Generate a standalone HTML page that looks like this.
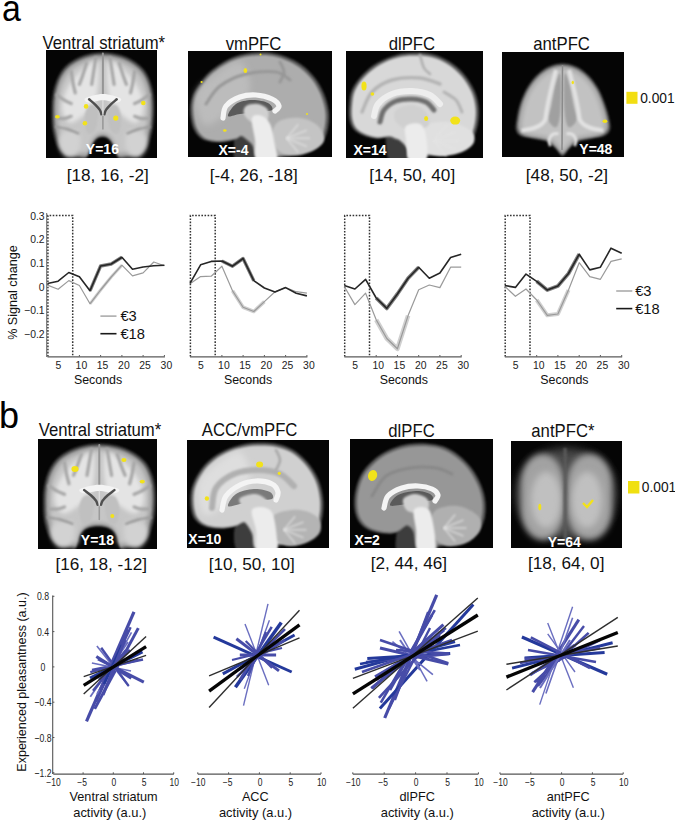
<!DOCTYPE html>
<html><head><meta charset="utf-8"><style>
html,body{margin:0;padding:0;background:#fff;}
svg{display:block;}
text{font-family:"Liberation Sans", sans-serif;}
</style></head><body>
<svg width="675" height="823" viewBox="0 0 675 823" font-family="'Liberation Sans', sans-serif">
<rect width="675" height="823" fill="#fff"/>
<text transform="translate(1.9,21.3) scale(0.93,1)" font-size="36.5" text-anchor="start" fill="#000">a</text>
<text x="-1.0" y="427.5" font-size="36" text-anchor="start" font-weight="normal" fill="#000" >b</text>
<text transform="translate(103.8,48.8) scale(0.955,1)" font-size="17.5" text-anchor="middle" fill="#111">Ventral striatum*</text>
<text transform="translate(253.5,50.0) scale(0.955,1)" font-size="17.5" text-anchor="middle" fill="#111">vmPFC</text>
<text transform="translate(411.9,49.6) scale(0.955,1)" font-size="17.5" text-anchor="middle" fill="#111">dlPFC</text>
<text transform="translate(561.6,49.6) scale(0.955,1)" font-size="17.5" text-anchor="middle" fill="#111">antPFC</text>
<text transform="translate(100.0,435.8) scale(0.955,1)" font-size="17.5" text-anchor="middle" fill="#111">Ventral striatum*</text>
<text transform="translate(249.6,436.1) scale(0.955,1)" font-size="17.5" text-anchor="middle" fill="#111">ACC/vmPFC</text>
<text transform="translate(411.5,436.6) scale(0.955,1)" font-size="17.5" text-anchor="middle" fill="#111">dlPFC</text>
<text transform="translate(562.9,436.6) scale(0.955,1)" font-size="17.5" text-anchor="middle" fill="#111">antPFC*</text>
<text x="107.8" y="180.7" font-size="17.2" text-anchor="middle" font-weight="normal" fill="#111" >[18, 16, -2]</text>
<text x="253.8" y="180.7" font-size="17.2" text-anchor="middle" font-weight="normal" fill="#111" >[-4, 26, -18]</text>
<text x="412.2" y="180.7" font-size="17.2" text-anchor="middle" font-weight="normal" fill="#111" >[14, 50, 40]</text>
<text x="566.9" y="181.2" font-size="17.2" text-anchor="middle" font-weight="normal" fill="#111" >[48, 50, -2]</text>
<text x="101.3" y="570.0" font-size="17.2" text-anchor="middle" font-weight="normal" fill="#111" >[16, 18, -12]</text>
<text x="251.8" y="570.0" font-size="17.2" text-anchor="middle" font-weight="normal" fill="#111" >[10, 50, 10]</text>
<text x="408.9" y="569.4" font-size="17.2" text-anchor="middle" font-weight="normal" fill="#111" >[2, 44, 46]</text>
<text x="566.2" y="569.4" font-size="17.2" text-anchor="middle" font-weight="normal" fill="#111" >[18, 64, 0]</text>
<rect x="626.4" y="91.8" width="11.1" height="12" fill="#f2de12"/>
<text transform="translate(640.2,102.8) scale(0.95,1)" font-size="14.5" text-anchor="start" fill="#111">0.001</text>
<rect x="628" y="481" width="11.4" height="12.5" fill="#f0e010"/>
<text transform="translate(641.8,492.4) scale(0.95,1)" font-size="14.5" text-anchor="start" fill="#111">0.001</text>
<defs><filter id="b05" filterUnits="userSpaceOnUse" x="0" y="0" width="675" height="823"><feGaussianBlur stdDeviation="0.6"/></filter><filter id="b1" filterUnits="userSpaceOnUse" x="0" y="0" width="675" height="823"><feGaussianBlur stdDeviation="1.2"/></filter><filter id="b2" filterUnits="userSpaceOnUse" x="0" y="0" width="675" height="823"><feGaussianBlur stdDeviation="2.0"/></filter><filter id="b3" filterUnits="userSpaceOnUse" x="0" y="0" width="675" height="823"><feGaussianBlur stdDeviation="3.2"/></filter><filter id="b4" filterUnits="userSpaceOnUse" x="0" y="0" width="675" height="823"><feGaussianBlur stdDeviation="5.0"/></filter></defs>
<clipPath id="c1"><rect x="46" y="50" width="111" height="108"/></clipPath>
<rect x="46" y="50" width="111" height="108" fill="#050505"/>
<g clip-path="url(#c1)">
<path d="M102.5,52.5 C105.7,52.5 108.8,52.7 112.0,53.2 C115.2,53.7 118.8,54.5 122.0,55.5 C125.2,56.5 128.2,57.9 131.0,59.5 C133.8,61.1 136.6,62.9 139.0,65.0 C141.4,67.1 143.7,69.3 145.5,72.0 C147.3,74.7 148.8,77.8 150.0,81.0 C151.2,84.2 152.1,87.5 152.8,91.0 C153.5,94.5 153.8,98.2 154.0,102.0 C154.2,105.8 154.2,110.0 154.0,114.0 C153.8,118.0 153.5,122.3 153.0,126.0 C152.5,129.7 151.8,132.8 151.0,136.0 C150.2,139.2 149.3,142.3 148.0,145.0 C146.7,147.7 145.0,150.1 143.0,152.0 C141.0,153.9 138.7,155.4 136.0,156.5 C133.3,157.6 129.8,158.5 127.0,158.8 C124.2,159.1 120.8,160.0 119.0,158.5 C117.2,157.0 117.2,152.8 116.0,150.0 C114.8,147.2 113.7,144.1 112.0,142.0 C110.3,139.9 108.2,138.2 106.0,137.5 C103.8,136.8 101.2,136.8 99.0,137.5 C96.8,138.2 94.7,139.9 93.0,142.0 C91.3,144.1 90.2,147.2 89.0,150.0 C87.8,152.8 87.8,157.0 86.0,158.5 C84.2,160.0 80.8,159.1 78.0,158.8 C75.2,158.5 71.7,157.6 69.0,156.5 C66.3,155.4 64.0,153.9 62.0,152.0 C60.0,150.1 58.3,147.7 57.0,145.0 C55.7,142.3 54.8,139.2 54.0,136.0 C53.2,132.8 52.7,129.7 52.3,126.0 C51.9,122.3 51.8,118.0 51.8,114.0 C51.8,110.0 51.7,105.8 52.0,102.0 C52.3,98.2 52.8,94.5 53.5,91.0 C54.2,87.5 55.2,84.2 56.5,81.0 C57.8,77.8 59.2,74.7 61.0,72.0 C62.8,69.3 64.7,67.1 67.0,65.0 C69.3,62.9 72.2,61.1 75.0,59.5 C77.8,57.9 81.0,56.5 84.0,55.5 C87.0,54.5 89.9,53.7 93.0,53.2 C96.1,52.7 99.3,52.5 102.5,52.5Z" fill="#505050" filter="url(#b1)" />
<path d="M102.5,55.2 C105.5,55.2 108.5,55.3 111.5,55.8 C114.6,56.3 118.0,57.0 121.0,58.0 C124.1,59.0 126.9,60.3 129.6,61.8 C132.3,63.3 134.9,65.1 137.2,67.0 C139.5,69.0 141.6,71.1 143.4,73.7 C145.1,76.2 146.5,79.2 147.6,82.2 C148.8,85.2 149.7,88.4 150.3,91.7 C150.9,95.1 151.3,98.5 151.4,102.2 C151.6,105.8 151.6,109.8 151.4,113.6 C151.3,117.4 151.0,121.5 150.5,125.0 C150.0,128.5 149.4,131.5 148.6,134.5 C147.8,137.5 147.0,140.5 145.7,143.0 C144.5,145.6 142.9,147.9 141.0,149.7 C139.1,151.5 136.9,152.9 134.3,154.0 C131.8,155.0 128.5,155.8 125.8,156.1 C123.1,156.5 119.9,157.3 118.2,155.9 C116.5,154.5 116.5,150.4 115.3,147.8 C114.2,145.2 113.1,142.2 111.5,140.2 C110.0,138.2 107.9,136.6 105.8,135.9 C103.8,135.2 101.3,135.2 99.2,135.9 C97.1,136.6 95.1,138.2 93.5,140.2 C91.9,142.2 90.8,145.2 89.7,147.8 C88.6,150.4 88.6,154.5 86.8,155.9 C85.1,157.3 81.9,156.5 79.2,156.1 C76.6,155.8 73.2,155.0 70.7,154.0 C68.2,152.9 65.9,151.5 64.0,149.7 C62.1,147.9 60.6,145.6 59.3,143.0 C58.0,140.5 57.2,137.5 56.4,134.5 C55.7,131.5 55.2,128.5 54.8,125.0 C54.5,121.5 54.4,117.4 54.4,113.6 C54.3,109.8 54.3,105.8 54.5,102.2 C54.8,98.5 55.3,95.1 56.0,91.7 C56.7,88.4 57.6,85.2 58.8,82.2 C60.0,79.2 61.4,76.2 63.1,73.7 C64.8,71.1 66.6,69.0 68.8,67.0 C71.0,65.1 73.7,63.3 76.4,61.8 C79.1,60.3 82.1,59.0 84.9,58.0 C87.8,57.0 90.6,56.3 93.5,55.8 C96.4,55.3 99.5,55.2 102.5,55.2Z" fill="#9c9c9c" filter="url(#b1)"/>
<path d="M102.5,58.3 C105.4,58.3 108.1,58.5 111.0,59.0 C113.9,59.4 117.1,60.1 119.9,61.0 C122.7,62.0 125.4,63.2 127.9,64.6 C130.4,66.0 132.9,67.6 135.0,69.5 C137.2,71.3 139.2,73.3 140.8,75.7 C142.4,78.1 143.7,80.9 144.8,83.7 C145.9,86.5 146.7,89.5 147.3,92.6 C147.9,95.7 148.2,99.0 148.4,102.4 C148.6,105.8 148.5,109.5 148.4,113.1 C148.2,116.6 147.9,120.5 147.5,123.8 C147.0,127.0 146.5,129.8 145.7,132.7 C145.0,135.5 144.2,138.3 143.0,140.7 C141.9,143.0 140.4,145.2 138.6,146.9 C136.8,148.6 134.7,149.9 132.4,150.9 C130.0,151.9 126.9,152.7 124.3,153.0 C121.8,153.3 118.9,154.0 117.2,152.7 C115.6,151.4 115.6,147.6 114.6,145.1 C113.5,142.7 112.5,139.9 111.0,138.0 C109.5,136.1 107.6,134.7 105.7,134.0 C103.7,133.3 101.4,133.3 99.4,134.0 C97.5,134.7 95.6,136.1 94.1,138.0 C92.6,139.9 91.6,142.7 90.5,145.1 C89.5,147.6 89.5,151.4 87.9,152.7 C86.2,154.0 83.3,153.3 80.7,153.0 C78.2,152.7 75.1,151.9 72.7,150.9 C70.4,149.9 68.3,148.6 66.5,146.9 C64.7,145.2 63.2,143.0 62.0,140.7 C60.9,138.3 60.1,135.5 59.4,132.7 C58.7,129.8 58.2,127.0 57.9,123.8 C57.5,120.5 57.5,116.6 57.4,113.1 C57.4,109.5 57.3,105.8 57.6,102.4 C57.9,99.0 58.3,95.7 58.9,92.6 C59.6,89.5 60.5,86.5 61.6,83.7 C62.7,80.9 64.1,78.1 65.6,75.7 C67.2,73.3 68.9,71.3 70.9,69.5 C73.0,67.6 75.5,66.0 78.1,64.6 C80.6,63.2 83.4,62.0 86.1,61.0 C88.7,60.1 91.3,59.4 94.1,59.0 C96.8,58.5 99.7,58.3 102.5,58.3Z" fill="#c6c6c6" filter="url(#b2)"/>
<path d="M97.8,63.1 C95.6,57.8 87.4,65.6 82.5,69.5 C77.5,73.4 71.6,80.1 68.2,86.5 C64.7,92.9 61.8,101.8 62.0,107.8 C62.2,113.8 65.8,121.2 69.2,122.7 C72.6,124.1 78.0,119.8 82.5,116.3 C86.9,112.7 93.2,110.3 95.7,101.4 C98.3,92.5 100.0,68.4 97.8,63.1Z" fill="#e4e4e4" filter="url(#b2)"/>
<path d="M86.5,63.1 C85.9,65.3 83.7,72.3 82.5,75.9 C81.3,79.4 79.9,83.0 79.4,84.4" fill="none" stroke="#a6a6a6" stroke-width="3.2" stroke-linecap="round" filter="url(#b1)"/>
<path d="M71.2,71.6 C71.6,73.8 72.6,80.8 73.3,84.4 C73.9,87.9 75.0,91.5 75.3,92.9" fill="none" stroke="#a6a6a6" stroke-width="3.2" stroke-linecap="round" filter="url(#b1)"/>
<path d="M56.9,95.0 C58.2,95.9 62.2,98.9 64.6,100.3 C67.0,101.8 70.1,103.0 71.2,103.5" fill="none" stroke="#a6a6a6" stroke-width="3.2" stroke-linecap="round" filter="url(#b1)"/>
<path d="M57.9,118.4 C59.1,118.4 62.9,118.8 65.1,118.4 C67.3,118.1 70.2,116.6 71.2,116.3" fill="none" stroke="#a6a6a6" stroke-width="3.2" stroke-linecap="round" filter="url(#b1)"/>
<path d="M95.7,57.8 C95.4,60.1 94.4,67.2 93.7,71.6 C93.0,76.1 92.0,82.3 91.7,84.4" fill="none" stroke="#a6a6a6" stroke-width="3.2" stroke-linecap="round" filter="url(#b1)"/>
<path d="M77.4,131.2 C74.3,129.6 65.1,130.8 62.0,133.3 C59.0,135.8 58.3,142.1 59.0,146.0 C59.6,149.9 63.2,155.3 66.1,156.7 C69.0,158.1 73.9,156.9 76.3,154.5 C78.7,152.2 80.2,146.8 80.4,142.9 C80.6,139.0 80.4,132.8 77.4,131.2Z" fill="#d2d2d2" filter="url(#b2)"/>
<path d="M55.9,126.9 C57.8,127.3 63.4,128.0 67.1,129.0 C70.9,130.1 76.5,132.6 78.4,133.3" fill="none" stroke="#9a9a9a" stroke-width="2.4" stroke-linecap="round" filter="url(#b1)"/>
<path d="M97.8,107.8 C96.6,103.9 90.8,103.9 88.6,105.7 C86.4,107.4 84.7,113.8 84.5,118.4 C84.3,123.0 85.7,131.5 87.6,133.3 C89.4,135.1 94.0,133.3 95.7,129.0 C97.4,124.8 99.0,111.7 97.8,107.8Z" fill="#c0c0c0" filter="url(#b1)"/>
<path d="M108.0,63.1 C110.2,57.8 118.4,65.6 123.3,69.5 C128.3,73.4 134.2,80.1 137.6,86.5 C141.1,92.9 144.0,101.8 143.8,107.8 C143.6,113.8 140.0,121.2 136.6,122.7 C133.2,124.1 127.8,119.8 123.3,116.3 C118.9,112.7 112.6,110.3 110.1,101.4 C107.5,92.5 105.8,68.4 108.0,63.1Z" fill="#e4e4e4" filter="url(#b2)"/>
<path d="M119.3,63.1 C119.9,65.3 122.1,72.3 123.3,75.9 C124.5,79.4 125.9,83.0 126.4,84.4" fill="none" stroke="#a6a6a6" stroke-width="3.2" stroke-linecap="round" filter="url(#b1)"/>
<path d="M134.6,71.6 C134.2,73.8 133.2,80.8 132.5,84.4 C131.9,87.9 130.8,91.5 130.5,92.9" fill="none" stroke="#a6a6a6" stroke-width="3.2" stroke-linecap="round" filter="url(#b1)"/>
<path d="M148.9,95.0 C147.6,95.9 143.6,98.9 141.2,100.3 C138.8,101.8 135.7,103.0 134.6,103.5" fill="none" stroke="#a6a6a6" stroke-width="3.2" stroke-linecap="round" filter="url(#b1)"/>
<path d="M147.9,118.4 C146.7,118.4 142.9,118.8 140.7,118.4 C138.5,118.1 135.6,116.6 134.6,116.3" fill="none" stroke="#a6a6a6" stroke-width="3.2" stroke-linecap="round" filter="url(#b1)"/>
<path d="M110.1,57.8 C110.4,60.1 111.4,67.2 112.1,71.6 C112.8,76.1 113.8,82.3 114.1,84.4" fill="none" stroke="#a6a6a6" stroke-width="3.2" stroke-linecap="round" filter="url(#b1)"/>
<path d="M128.5,131.2 C131.5,129.6 140.7,130.8 143.8,133.3 C146.8,135.8 147.5,142.1 146.8,146.0 C146.2,149.9 142.6,155.3 139.7,156.7 C136.8,158.1 131.9,156.9 129.5,154.5 C127.1,152.2 125.6,146.8 125.4,142.9 C125.2,139.0 125.4,132.8 128.5,131.2Z" fill="#d2d2d2" filter="url(#b2)"/>
<path d="M149.9,126.9 C148.0,127.3 142.4,128.0 138.7,129.0 C134.9,130.1 129.3,132.6 127.4,133.3" fill="none" stroke="#9a9a9a" stroke-width="2.4" stroke-linecap="round" filter="url(#b1)"/>
<path d="M108.0,107.8 C109.2,103.9 115.0,103.9 117.2,105.7 C119.4,107.4 121.1,113.8 121.3,118.4 C121.5,123.0 120.1,131.5 118.2,133.3 C116.4,135.1 111.8,133.3 110.1,129.0 C108.4,124.8 106.8,111.7 108.0,107.8Z" fill="#c0c0c0" filter="url(#b1)"/>
<path d="M102.9,53.6 C102.9,56.9 102.9,66.9 102.9,73.8 C102.9,80.7 102.9,91.5 102.9,95.0" fill="none" stroke="#959595" stroke-width="2.0" stroke-linecap="round" filter="url(#b05)"/>
<path d="M85.5,98.2 C87.9,96.8 97.1,94.0 102.9,94.0 C108.7,94.0 117.9,96.8 120.3,98.2 C122.7,99.6 120.1,102.1 117.2,102.5 C114.3,102.8 107.7,100.3 102.9,100.3 C98.1,100.3 91.5,102.8 88.6,102.5 C85.7,102.1 83.1,99.6 85.5,98.2Z" fill="#f4f4f4" filter="url(#b05)"/>
<path d="M89.1,99.3 C90.1,100.2 93.4,102.8 95.2,104.6 C97.0,106.4 98.8,108.3 99.8,109.9 C100.9,111.5 101.1,113.4 101.4,114.2" fill="none" stroke="#505050" stroke-width="2.5" stroke-linecap="round" filter="url(#b05)"/>
<path d="M116.7,99.3 C115.7,100.2 112.4,102.8 110.6,104.6 C108.8,106.4 107.0,108.3 106.0,109.9 C104.9,111.5 104.7,113.4 104.4,114.2" fill="none" stroke="#505050" stroke-width="2.5" stroke-linecap="round" filter="url(#b05)"/>
<path d="M102.9,100.3 C102.9,102.6 102.9,111.9 102.9,114.2" fill="none" stroke="#e0e0e0" stroke-width="1.2" stroke-linecap="round" filter="url(#b05)"/>
<path d="M102.9,116.3 C102.9,118.4 102.9,126.9 102.9,129.0" fill="none" stroke="#9a9a9a" stroke-width="1.6" stroke-linecap="round" filter="url(#b05)"/>
<ellipse cx="86.1" cy="106.4" rx="2.3" ry="2.3" fill="#f2e21a" transform="rotate(0 86.1 106.4)"/>
<ellipse cx="84.9" cy="123.3" rx="2.3" ry="2.3" fill="#f2e21a" transform="rotate(0 84.9 123.3)"/>
<ellipse cx="115.8" cy="118.1" rx="2.6" ry="2.6" fill="#f2e21a" transform="rotate(0 115.8 118.1)"/>
<ellipse cx="143.3" cy="103" rx="2.3" ry="2.3" fill="#f2e21a" transform="rotate(0 143.3 103)"/>
<ellipse cx="57.4" cy="116.7" rx="2.4" ry="1.8" fill="#f2e21a" transform="rotate(0 57.4 116.7)"/>
<text x="102.4" y="153.5" font-size="14" font-weight="bold" fill="#fff" text-anchor="middle">Y=16</text>
</g>
<clipPath id="c5"><rect x="38" y="439" width="119" height="110"/></clipPath>
<rect x="38" y="439" width="119" height="110" fill="#050505"/>
<g clip-path="url(#c5)">
<path d="M98.9,443.8 C102.3,443.8 105.7,444.0 109.3,444.5 C112.8,445.0 116.8,445.7 120.2,446.8 C123.7,447.8 127.0,449.2 130.1,450.7 C133.2,452.3 136.2,454.1 138.9,456.2 C141.5,458.3 144.0,460.5 146.0,463.1 C148.0,465.8 149.6,468.9 150.9,472.1 C152.3,475.2 153.3,478.5 154.0,482.0 C154.7,485.5 155.1,489.1 155.3,492.9 C155.5,496.7 155.5,500.8 155.3,504.8 C155.1,508.8 154.8,513.1 154.2,516.7 C153.7,520.3 152.9,523.5 152.0,526.6 C151.1,529.8 150.2,532.9 148.7,535.6 C147.3,538.2 145.4,540.6 143.2,542.5 C141.1,544.4 138.5,545.8 135.6,547.0 C132.7,548.1 128.1,548.8 125.7,549.2 C123.3,549.7 122.2,551.4 121.0,549.5 C119.8,547.6 119.8,541.2 118.5,538.0 C117.2,534.8 115.4,532.3 113.0,530.5 C110.6,528.7 107.5,527.6 104.0,527.0 C100.5,526.4 95.5,526.4 92.0,527.0 C88.5,527.6 85.4,528.7 83.0,530.5 C80.6,532.3 78.8,534.8 77.5,538.0 C76.2,541.2 75.9,547.6 75.0,549.5 C74.1,551.4 74.2,549.7 72.0,549.2 C69.9,548.8 65.1,548.1 62.1,547.0 C59.2,545.8 56.7,544.4 54.5,542.5 C52.3,540.6 50.5,538.2 49.0,535.6 C47.5,532.9 46.6,529.8 45.7,526.6 C44.8,523.5 44.2,520.3 43.8,516.7 C43.4,513.1 43.3,508.8 43.3,504.8 C43.2,500.8 43.2,496.7 43.5,492.9 C43.8,489.1 44.3,485.5 45.2,482.0 C46.0,478.5 47.1,475.2 48.4,472.1 C49.8,468.9 51.5,465.8 53.4,463.1 C55.3,460.5 57.4,458.3 60.0,456.2 C62.5,454.1 65.6,452.3 68.7,450.7 C71.8,449.2 75.3,447.8 78.6,446.8 C81.9,445.7 85.1,445.0 88.4,444.5 C91.8,444.0 95.4,443.8 98.9,443.8Z" fill="#505050" filter="url(#b1)" />
<path d="M98.9,446.4 C102.2,446.4 105.4,446.6 108.8,447.1 C112.2,447.6 115.9,448.3 119.2,449.3 C122.5,450.2 125.6,451.5 128.6,453.0 C131.5,454.5 134.4,456.2 136.9,458.2 C139.4,460.2 141.7,462.3 143.7,464.8 C145.6,467.3 147.1,470.3 148.3,473.3 C149.6,476.3 150.6,479.4 151.3,482.7 C152.0,486.0 152.3,489.5 152.5,493.1 C152.7,496.7 152.7,500.6 152.5,504.4 C152.3,508.2 152.0,512.2 151.5,515.7 C150.9,519.2 150.2,522.1 149.4,525.1 C148.5,528.1 147.6,531.1 146.3,533.6 C144.9,536.1 143.1,538.4 141.1,540.2 C139.0,542.0 136.5,543.4 133.8,544.4 C131.0,545.5 126.7,546.2 124.4,546.6 C122.1,547.0 121.1,548.6 119.9,546.8 C118.8,545.1 118.8,538.9 117.5,535.9 C116.3,532.9 114.6,530.5 112.3,528.8 C110.0,527.1 107.1,526.0 103.8,525.5 C100.4,524.9 95.7,524.9 92.4,525.5 C89.0,526.0 86.1,527.1 83.8,528.8 C81.5,530.5 79.9,532.9 78.6,535.9 C77.3,538.9 77.1,545.1 76.2,546.8 C75.3,548.6 75.4,547.0 73.4,546.6 C71.3,546.2 66.8,545.5 64.0,544.4 C61.2,543.4 58.8,542.0 56.7,540.2 C54.6,538.4 52.9,536.1 51.5,533.6 C50.1,531.1 49.2,528.1 48.4,525.1 C47.6,522.1 47.0,519.2 46.6,515.7 C46.2,512.2 46.1,508.2 46.1,504.4 C46.0,500.6 46.0,496.7 46.3,493.1 C46.6,489.5 47.1,486.0 47.9,482.7 C48.6,479.4 49.7,476.3 51.0,473.3 C52.3,470.3 53.9,467.3 55.7,464.8 C57.5,462.3 59.5,460.2 61.9,458.2 C64.4,456.2 67.3,454.5 70.3,453.0 C73.2,451.5 76.5,450.2 79.6,449.3 C82.7,448.3 85.8,447.6 89.0,447.1 C92.2,446.6 95.6,446.4 98.9,446.4Z" fill="#9c9c9c" filter="url(#b1)"/>
<path d="M98.9,449.6 C102.0,449.6 105.0,449.8 108.2,450.2 C111.3,450.6 114.8,451.3 117.9,452.2 C121.0,453.2 123.9,454.4 126.7,455.8 C129.5,457.2 132.2,458.8 134.5,460.6 C136.9,462.5 139.1,464.4 140.9,466.8 C142.6,469.2 144.1,472.0 145.2,474.7 C146.4,477.5 147.3,480.5 148.0,483.6 C148.6,486.7 148.9,489.9 149.1,493.3 C149.3,496.7 149.3,500.4 149.1,503.9 C149.0,507.4 148.7,511.2 148.2,514.5 C147.7,517.7 147.0,520.5 146.2,523.3 C145.4,526.1 144.6,528.9 143.3,531.3 C142.0,533.6 140.4,535.7 138.4,537.4 C136.5,539.1 134.2,540.4 131.6,541.4 C129.0,542.4 125.0,543.1 122.8,543.4 C120.6,543.8 119.7,545.3 118.6,543.7 C117.5,542.0 117.6,536.2 116.4,533.4 C115.2,530.6 113.6,528.4 111.5,526.7 C109.3,525.1 106.6,524.2 103.5,523.6 C100.4,523.1 95.9,523.1 92.8,523.6 C89.7,524.2 86.9,525.1 84.8,526.7 C82.6,528.4 81.1,530.6 79.9,533.4 C78.7,536.2 78.5,542.0 77.7,543.7 C76.9,545.3 76.9,543.8 75.0,543.4 C73.1,543.1 68.8,542.4 66.2,541.4 C63.6,540.4 61.4,539.1 59.4,537.4 C57.5,535.7 55.8,533.6 54.5,531.3 C53.2,528.9 52.4,526.1 51.6,523.3 C50.8,520.5 50.3,517.7 49.9,514.5 C49.6,511.2 49.5,507.4 49.5,503.9 C49.4,500.4 49.4,496.7 49.7,493.3 C49.9,489.9 50.4,486.7 51.1,483.6 C51.8,480.5 52.8,477.5 54.0,474.7 C55.3,472.0 56.7,469.2 58.4,466.8 C60.1,464.4 62.0,462.5 64.3,460.6 C66.6,458.8 69.3,457.2 72.1,455.8 C74.8,454.4 77.9,453.2 80.9,452.2 C83.8,451.3 86.6,450.6 89.6,450.2 C92.7,449.8 95.8,449.6 98.9,449.6Z" fill="#c6c6c6" filter="url(#b2)"/>
<path d="M93.7,454.3 C91.3,449.1 82.3,456.8 76.9,460.6 C71.5,464.5 64.9,471.2 61.2,477.5 C57.4,483.8 54.3,492.5 54.5,498.5 C54.6,504.5 58.6,511.8 62.3,513.2 C66.0,514.6 72.0,510.4 76.9,506.9 C81.7,503.4 88.7,501.0 91.5,492.2 C94.3,483.4 96.1,459.6 93.7,454.3Z" fill="#e4e4e4" filter="url(#b2)"/>
<path d="M81.4,454.3 C80.6,456.4 78.2,463.4 76.9,466.9 C75.6,470.5 74.1,474.0 73.5,475.4" fill="none" stroke="#a6a6a6" stroke-width="3.2" stroke-linecap="round" filter="url(#b1)"/>
<path d="M64.5,462.7 C64.9,464.8 66.0,471.9 66.8,475.4 C67.5,478.9 68.7,482.4 69.0,483.8" fill="none" stroke="#a6a6a6" stroke-width="3.2" stroke-linecap="round" filter="url(#b1)"/>
<path d="M48.9,485.9 C50.3,486.8 54.6,489.7 57.3,491.1 C59.9,492.5 63.3,493.8 64.5,494.3" fill="none" stroke="#a6a6a6" stroke-width="3.2" stroke-linecap="round" filter="url(#b1)"/>
<path d="M50.0,509.0 C51.3,509.0 55.4,509.4 57.8,509.0 C60.3,508.7 63.4,507.3 64.5,506.9" fill="none" stroke="#a6a6a6" stroke-width="3.2" stroke-linecap="round" filter="url(#b1)"/>
<path d="M91.5,449.1 C91.1,451.3 90.0,458.4 89.2,462.7 C88.5,467.1 87.3,473.3 87.0,475.4" fill="none" stroke="#a6a6a6" stroke-width="3.2" stroke-linecap="round" filter="url(#b1)"/>
<path d="M71.3,521.6 C67.9,520.1 57.8,521.3 54.5,523.8 C51.1,526.2 50.3,532.5 51.1,536.4 C51.8,540.2 55.8,545.5 58.9,546.9 C62.1,548.3 67.5,547.1 70.2,544.8 C72.8,542.5 74.5,537.1 74.6,533.2 C74.8,529.4 74.6,523.2 71.3,521.6Z" fill="#d2d2d2" filter="url(#b2)"/>
<path d="M47.7,517.4 C49.8,517.8 56.0,518.5 60.1,519.5 C64.2,520.6 70.3,523.1 72.4,523.8" fill="none" stroke="#9a9a9a" stroke-width="2.4" stroke-linecap="round" filter="url(#b1)"/>
<path d="M93.7,498.5 C92.4,494.6 86.0,494.6 83.6,496.4 C81.2,498.2 79.3,504.5 79.1,509.0 C78.9,513.6 80.4,522.0 82.5,523.8 C84.5,525.5 89.6,523.8 91.5,519.5 C93.3,515.3 95.0,502.4 93.7,498.5Z" fill="#c0c0c0" filter="url(#b1)"/>
<path d="M104.9,454.3 C107.3,449.1 116.3,456.8 121.7,460.6 C127.1,464.5 133.7,471.2 137.4,477.5 C141.2,483.8 144.3,492.5 144.1,498.5 C144.0,504.5 140.0,511.8 136.3,513.2 C132.6,514.6 126.6,510.4 121.7,506.9 C116.9,503.4 109.9,501.0 107.1,492.2 C104.3,483.4 102.5,459.6 104.9,454.3Z" fill="#e4e4e4" filter="url(#b2)"/>
<path d="M117.2,454.3 C118.0,456.4 120.4,463.4 121.7,466.9 C123.0,470.5 124.5,474.0 125.1,475.4" fill="none" stroke="#a6a6a6" stroke-width="3.2" stroke-linecap="round" filter="url(#b1)"/>
<path d="M134.1,462.7 C133.7,464.8 132.6,471.9 131.8,475.4 C131.1,478.9 129.9,482.4 129.6,483.8" fill="none" stroke="#a6a6a6" stroke-width="3.2" stroke-linecap="round" filter="url(#b1)"/>
<path d="M149.7,485.9 C148.3,486.8 144.0,489.7 141.3,491.1 C138.7,492.5 135.3,493.8 134.1,494.3" fill="none" stroke="#a6a6a6" stroke-width="3.2" stroke-linecap="round" filter="url(#b1)"/>
<path d="M148.6,509.0 C147.3,509.0 143.2,509.4 140.8,509.0 C138.3,508.7 135.2,507.3 134.1,506.9" fill="none" stroke="#a6a6a6" stroke-width="3.2" stroke-linecap="round" filter="url(#b1)"/>
<path d="M107.1,449.1 C107.5,451.3 108.6,458.4 109.4,462.7 C110.1,467.1 111.3,473.3 111.6,475.4" fill="none" stroke="#a6a6a6" stroke-width="3.2" stroke-linecap="round" filter="url(#b1)"/>
<path d="M127.3,521.6 C130.7,520.1 140.8,521.3 144.1,523.8 C147.5,526.2 148.3,532.5 147.5,536.4 C146.8,540.2 142.8,545.5 139.7,546.9 C136.5,548.3 131.1,547.1 128.4,544.8 C125.8,542.5 124.1,537.1 124.0,533.2 C123.8,529.4 124.0,523.2 127.3,521.6Z" fill="#d2d2d2" filter="url(#b2)"/>
<path d="M150.9,517.4 C148.8,517.8 142.6,518.5 138.5,519.5 C134.4,520.6 128.3,523.1 126.2,523.8" fill="none" stroke="#9a9a9a" stroke-width="2.4" stroke-linecap="round" filter="url(#b1)"/>
<path d="M104.9,498.5 C106.2,494.6 112.6,494.6 115.0,496.4 C117.4,498.2 119.3,504.5 119.5,509.0 C119.7,513.6 118.2,522.0 116.1,523.8 C114.1,525.5 109.0,523.8 107.1,519.5 C105.3,515.3 103.6,502.4 104.9,498.5Z" fill="#c0c0c0" filter="url(#b1)"/>
<path d="M99.3,444.9 C99.3,448.2 99.3,458.0 99.3,464.8 C99.3,471.7 99.3,482.4 99.3,485.9" fill="none" stroke="#959595" stroke-width="2.0" stroke-linecap="round" filter="url(#b05)"/>
<path d="M80.2,489.0 C82.9,487.6 92.9,484.8 99.3,484.8 C105.7,484.8 115.7,487.6 118.4,489.0 C121.0,490.4 118.2,492.9 115.0,493.2 C111.8,493.6 104.5,491.1 99.3,491.1 C94.1,491.1 86.8,493.6 83.6,493.2 C80.4,492.9 77.6,490.4 80.2,489.0Z" fill="#f4f4f4" filter="url(#b05)"/>
<path d="M84.2,490.1 C85.3,491.0 88.9,493.6 90.9,495.3 C92.9,497.1 94.8,499.0 95.9,500.6 C97.1,502.2 97.3,504.1 97.6,504.8" fill="none" stroke="#505050" stroke-width="2.5" stroke-linecap="round" filter="url(#b05)"/>
<path d="M114.4,490.1 C113.3,491.0 109.7,493.6 107.7,495.3 C105.7,497.1 103.8,499.0 102.7,500.6 C101.5,502.2 101.3,504.1 101.0,504.8" fill="none" stroke="#505050" stroke-width="2.5" stroke-linecap="round" filter="url(#b05)"/>
<path d="M99.3,491.1 C99.3,493.4 99.3,502.5 99.3,504.8" fill="none" stroke="#e0e0e0" stroke-width="1.2" stroke-linecap="round" filter="url(#b05)"/>
<path d="M99.3,506.9 C99.3,509.0 99.3,517.4 99.3,519.5" fill="none" stroke="#9a9a9a" stroke-width="1.6" stroke-linecap="round" filter="url(#b05)"/>
<ellipse cx="75" cy="469" rx="3.6" ry="3.0" fill="#f2e21a" transform="rotate(0 75 469)"/>
<ellipse cx="123.9" cy="460" rx="2.6" ry="2.0" fill="#f2e21a" transform="rotate(0 123.9 460)"/>
<ellipse cx="142.3" cy="481.6" rx="2.6" ry="1.9" fill="#f2e21a" transform="rotate(0 142.3 481.6)"/>
<ellipse cx="112.3" cy="516" rx="2.0" ry="2.0" fill="#f2e21a" transform="rotate(0 112.3 516)"/>
<text x="97.4" y="545.4" font-size="14" font-weight="bold" fill="#fff" text-anchor="middle">Y=18</text>
</g>
<clipPath id="c2"><rect x="188" y="51" width="144" height="106"/></clipPath>
<rect x="188" y="51" width="144" height="106" fill="#050505"/>
<g clip-path="url(#c2)">
<path d="M236.0,134.0 C239.0,132.2 248.3,131.3 252.0,134.0 C255.7,136.7 257.3,145.7 258.0,150.0 C258.7,154.3 259.7,158.3 256.0,160.0 C252.3,161.7 239.7,162.5 236.0,160.0 C232.3,157.5 234.0,149.3 234.0,145.0 C234.0,140.7 233.0,135.8 236.0,134.0Z" fill="#3c3c3c" filter="url(#b1)"/>
<path d="M198.2,86.8 C200.8,82.9 204.3,77.3 208.2,73.4 C212.1,69.5 216.8,66.3 221.6,63.4 C226.4,60.5 231.9,57.9 237.1,56.1 C242.3,54.3 247.1,53.3 252.7,52.8 C258.2,52.2 264.8,52.1 270.4,52.8 C275.9,53.5 280.8,54.8 286.0,56.8 C291.2,58.8 296.8,61.5 301.6,65.0 C306.4,68.5 311.2,73.2 314.9,77.9 C318.6,82.6 321.5,87.9 323.8,93.4 C326.1,99.0 328.0,105.6 328.7,111.2 C329.4,116.8 329.0,122.0 328.2,126.8 C327.4,131.6 326.0,136.4 323.8,140.1 C321.6,143.8 318.6,146.6 314.9,149.0 C311.2,151.4 306.4,153.3 301.6,154.6 C296.8,155.9 289.7,156.2 286.0,156.8 C282.3,157.4 281.1,157.5 279.3,158.0 C277.5,158.5 278.7,159.7 275.0,160.0 C271.3,160.3 260.7,162.2 257.0,160.0 C253.3,157.8 254.5,150.1 252.7,146.8 C250.9,143.5 248.1,141.8 246.0,140.1 C243.9,138.4 242.2,136.9 240.4,136.8 C238.6,136.7 238.4,138.8 234.9,139.7 C231.4,140.6 224.1,142.2 219.3,142.3 C214.5,142.5 209.3,141.5 206.0,140.6 C202.7,139.7 201.3,138.7 199.3,136.8 C197.3,134.9 195.2,132.2 193.8,129.0 C192.4,125.8 191.5,121.6 190.9,117.9 C190.3,114.2 190.1,110.3 190.4,106.8 C190.7,103.3 191.4,100.1 192.7,96.8 C194.0,93.5 195.6,90.7 198.2,86.8Z" fill="#5a5a5a" filter="url(#b1)" />
<path d="M200.8,88.0 C203.3,84.3 206.6,79.0 210.3,75.2 C214.1,71.5 218.5,68.4 223.1,65.7 C227.7,62.9 233.0,60.4 237.9,58.7 C242.9,57.0 247.5,56.1 252.8,55.6 C258.1,55.0 264.4,54.9 269.7,55.6 C275.0,56.2 279.7,57.4 284.6,59.4 C289.6,61.3 294.9,63.9 299.5,67.2 C304.1,70.6 308.7,75.0 312.2,79.5 C315.8,84.1 318.5,89.0 320.7,94.3 C322.9,99.6 324.7,106.0 325.4,111.3 C326.1,116.7 325.7,121.6 324.9,126.2 C324.2,130.8 322.9,135.4 320.7,138.9 C318.6,142.5 315.8,145.1 312.2,147.4 C308.7,149.7 304.1,151.5 299.5,152.8 C294.9,154.0 288.2,154.3 284.6,154.9 C281.1,155.4 280.0,155.5 278.2,156.0 C276.5,156.5 277.7,157.6 274.1,157.9 C270.6,158.3 260.5,160.0 256.9,157.9 C253.4,155.8 254.6,148.5 252.8,145.3 C251.1,142.2 248.4,140.5 246.4,138.9 C244.5,137.3 242.9,135.9 241.1,135.8 C239.3,135.7 239.2,137.7 235.8,138.6 C232.5,139.4 225.5,140.9 220.9,141.0 C216.3,141.2 211.4,140.3 208.2,139.4 C205.1,138.5 203.8,137.6 201.8,135.8 C199.9,133.9 197.9,131.3 196.6,128.3 C195.3,125.3 194.4,121.3 193.8,117.7 C193.3,114.2 193.1,110.5 193.3,107.1 C193.6,103.8 194.3,100.8 195.5,97.6 C196.8,94.4 198.3,91.8 200.8,88.0Z" fill="#adadad" filter="url(#b1)"/>
<path d="M196.0,95.0 C197.7,86.7 207.7,80.5 215.0,75.0 C222.3,69.5 234.2,59.5 240.0,62.0 C245.8,64.5 251.7,82.0 250.0,90.0 C248.3,98.0 237.5,104.2 230.0,110.0 C222.5,115.8 210.7,127.5 205.0,125.0 C199.3,122.5 194.3,103.3 196.0,95.0Z" fill="#bcbcbc" filter="url(#b3)"/>
<path d="M206.0,104.0 C208.3,101.0 213.3,91.0 220.0,86.0 C226.7,81.0 236.7,76.3 246.0,74.0 C255.3,71.7 268.7,71.0 276.0,72.0 C283.3,73.0 287.7,78.7 290.0,80.0" fill="none" stroke="#979797" stroke-width="3.0" stroke-linecap="round" filter="url(#b1)"/>
<path d="M280.0,62.0 C280.7,63.7 284.0,68.7 284.0,72.0 C284.0,75.3 280.7,80.3 280.0,82.0" fill="none" stroke="#979797" stroke-width="3.0" stroke-linecap="round" filter="url(#b1)"/>
<path d="M278.0,122.0 C282.7,118.7 293.3,117.3 300.0,118.0 C306.7,118.7 314.0,122.3 318.0,126.0 C322.0,129.7 324.7,136.0 324.0,140.0 C323.3,144.0 318.7,147.5 314.0,150.0 C309.3,152.5 301.7,154.7 296.0,155.0 C290.3,155.3 284.0,154.8 280.0,152.0 C276.0,149.2 272.3,143.0 272.0,138.0 C271.7,133.0 273.3,125.3 278.0,122.0Z" fill="#c4c4c4" filter="url(#b1)"/>
<line x1="286.6" y1="138.3" x2="298.3" y2="124.2" stroke="#e4e4e4" stroke-width="1.6" stroke-opacity="0.7" filter="url(#b1)"/>
<line x1="286.6" y1="138.3" x2="306.8" y2="130.2" stroke="#e4e4e4" stroke-width="1.6" stroke-opacity="0.7" filter="url(#b1)"/>
<line x1="286.6" y1="138.3" x2="310.0" y2="138.3" stroke="#e4e4e4" stroke-width="1.6" stroke-opacity="0.7" filter="url(#b1)"/>
<line x1="286.6" y1="138.3" x2="306.8" y2="146.5" stroke="#e4e4e4" stroke-width="1.6" stroke-opacity="0.7" filter="url(#b1)"/>
<line x1="286.6" y1="138.3" x2="298.3" y2="152.5" stroke="#e4e4e4" stroke-width="1.6" stroke-opacity="0.7" filter="url(#b1)"/>
<path d="M228.0,116.0 C227.3,114.3 232.0,106.7 236.0,104.0 C240.0,101.3 246.7,100.2 252.0,100.0 C257.3,99.8 264.7,101.3 268.0,103.0 C271.3,104.7 273.7,108.5 272.0,110.0 C270.3,111.5 263.3,111.3 258.0,112.0 C252.7,112.7 245.0,113.3 240.0,114.0 C235.0,114.7 228.7,117.7 228.0,116.0Z" fill="#5a5a5a" filter="url(#b05)"/>
<path d="M223.0,118.0 C223.5,116.0 223.2,109.5 226.0,106.0 C228.8,102.5 235.0,98.8 240.0,97.0 C245.0,95.2 250.7,94.7 256.0,95.0 C261.3,95.3 268.2,97.2 272.0,99.0 C275.8,100.8 278.5,104.0 279.0,106.0 C279.5,108.0 275.7,110.2 275.0,111.0" fill="none" stroke="#f4f4f4" stroke-width="5.2" stroke-linecap="round" filter="url(#b05)"/>
<path d="M246.0,106.0 C248.3,104.3 254.3,103.3 258.0,104.0 C261.7,104.7 266.7,107.0 268.0,110.0 C269.3,113.0 268.7,120.0 266.0,122.0 C263.3,124.0 255.7,123.3 252.0,122.0 C248.3,120.7 245.0,116.7 244.0,114.0 C243.0,111.3 243.7,107.7 246.0,106.0Z" fill="#d0d0d0" filter="url(#b1)"/>
<path d="M252.0,118.0 C253.2,114.0 259.0,115.0 262.0,116.0 C265.0,117.0 268.0,120.0 270.0,124.0 C272.0,128.0 273.0,134.0 274.0,140.0 C275.0,146.0 278.8,156.7 276.0,160.0 C273.2,163.3 260.5,163.3 257.0,160.0 C253.5,156.7 255.8,147.0 255.0,140.0 C254.2,133.0 250.8,122.0 252.0,118.0Z" fill="#ececec" filter="url(#b1)"/>
<ellipse cx="245.4" cy="70.5" rx="1.8" ry="2.6" fill="#f2e21a" transform="rotate(0 245.4 70.5)"/>
<ellipse cx="201.6" cy="82" rx="1.1" ry="1.1" fill="#f2e21a" transform="rotate(0 201.6 82)"/>
<ellipse cx="224.8" cy="130.5" rx="1.8" ry="1.3" fill="#f2e21a" transform="rotate(0 224.8 130.5)"/>
<ellipse cx="260.5" cy="54.5" rx="1" ry="1" fill="#f2e21a" transform="rotate(0 260.5 54.5)"/>
<ellipse cx="307" cy="114" rx="1" ry="1" fill="#f2e21a" transform="rotate(0 307 114)"/>
<text x="218.5" y="154.5" font-size="14" font-weight="bold" fill="#fff" text-anchor="start">X=-4</text>
</g>
<clipPath id="c3"><rect x="346" y="51" width="137" height="107"/></clipPath>
<rect x="346" y="51" width="137" height="107" fill="#050505"/>
<g clip-path="url(#c3)">
<path d="M388.0,134.0 C391.0,132.0 400.3,131.3 404.0,134.0 C407.7,136.7 409.3,145.7 410.0,150.0 C410.7,154.3 411.3,158.3 408.0,160.0 C404.7,161.7 393.7,162.3 390.0,160.0 C386.3,157.7 386.3,150.3 386.0,146.0 C385.7,141.7 385.0,136.0 388.0,134.0Z" fill="#3c3c3c" filter="url(#b1)"/>
<path d="M352.4,89.0 C354.7,84.1 358.8,78.7 363.0,74.3 C367.2,69.9 372.1,65.9 377.7,62.7 C383.3,59.5 390.6,56.5 396.6,54.9 C402.6,53.2 407.5,52.9 413.5,52.8 C419.5,52.7 426.4,52.8 432.4,54.3 C438.4,55.8 444.0,58.3 449.3,61.6 C454.6,64.9 459.8,69.4 464.0,74.3 C468.2,79.2 472.1,85.5 474.5,91.1 C476.9,96.7 478.2,102.4 478.7,108.0 C479.2,113.6 478.8,119.5 477.7,124.8 C476.6,130.1 475.0,135.3 472.4,139.5 C469.8,143.7 466.5,147.4 461.9,150.0 C457.3,152.6 450.6,154.2 445.0,155.3 C439.4,156.4 432.4,155.6 428.2,156.4 C424.0,157.2 423.4,159.4 420.0,160.0 C416.6,160.6 410.1,161.7 408.0,160.0 C405.9,158.3 408.6,153.1 407.2,150.0 C405.8,146.9 401.9,143.3 399.8,141.6 C397.7,139.8 396.4,140.2 394.5,139.5 C392.6,138.8 391.3,137.6 388.2,137.4 C385.1,137.2 379.8,138.8 375.6,138.5 C371.4,138.2 366.7,136.9 363.0,135.3 C359.3,133.7 355.8,131.8 353.5,129.0 C351.2,126.2 350.0,122.7 349.3,118.5 C348.6,114.3 348.8,108.6 349.3,103.7 C349.8,98.8 350.1,93.9 352.4,89.0Z" fill="#5a5a5a" filter="url(#b1)" />
<path d="M355.1,90.1 C357.2,85.4 361.1,80.3 365.2,76.1 C369.2,71.9 373.9,68.1 379.2,65.0 C384.6,61.9 391.6,59.1 397.3,57.6 C403.0,56.0 407.7,55.6 413.4,55.6 C419.1,55.5 425.8,55.6 431.5,57.0 C437.2,58.4 442.6,60.8 447.6,64.0 C452.6,67.1 457.6,71.4 461.6,76.1 C465.6,80.8 469.3,86.8 471.7,92.1 C474.0,97.5 475.2,102.9 475.7,108.3 C476.2,113.6 475.7,119.3 474.7,124.3 C473.7,129.3 472.2,134.3 469.7,138.3 C467.1,142.4 464.0,145.9 459.6,148.4 C455.3,150.9 448.9,152.4 443.5,153.4 C438.1,154.5 431.4,153.7 427.4,154.5 C423.5,155.2 422.8,157.4 419.6,157.9 C416.4,158.5 410.2,159.5 408.2,157.9 C406.1,156.3 408.7,151.3 407.4,148.4 C406.1,145.4 402.3,142.0 400.3,140.4 C398.3,138.7 397.1,139.0 395.3,138.3 C393.4,137.7 392.3,136.5 389.2,136.3 C386.2,136.2 381.2,137.7 377.2,137.4 C373.2,137.1 368.7,135.9 365.2,134.3 C361.7,132.8 358.3,131.0 356.1,128.3 C353.9,125.6 352.8,122.3 352.1,118.3 C351.4,114.3 351.6,108.9 352.1,104.2 C352.6,99.5 352.9,94.8 355.1,90.1Z" fill="#d8d8d8" filter="url(#b1)"/>
<path d="M362.0,112.0 C363.7,108.7 367.0,97.3 372.0,92.0 C377.0,86.7 384.0,82.3 392.0,80.0 C400.0,77.7 412.0,77.3 420.0,78.0 C428.0,78.7 436.7,83.0 440.0,84.0" fill="none" stroke="#b4b4b4" stroke-width="3.4" stroke-linecap="round" filter="url(#b1)"/>
<path d="M420.0,55.0 C420.7,57.2 422.3,64.8 424.0,68.0 C425.7,71.2 429.0,73.0 430.0,74.0" fill="none" stroke="#b0b0b0" stroke-width="2.6" stroke-linecap="round" filter="url(#b1)"/>
<path d="M444.0,92.0 C446.0,93.3 453.0,96.7 456.0,100.0 C459.0,103.3 461.0,110.0 462.0,112.0" fill="none" stroke="#b4b4b4" stroke-width="3.0" stroke-linecap="round" filter="url(#b1)"/>
<path d="M422.0,126.0 C427.0,123.3 440.0,121.3 448.0,122.0 C456.0,122.7 465.7,126.7 470.0,130.0 C474.3,133.3 475.3,138.3 474.0,142.0 C472.7,145.7 467.7,149.7 462.0,152.0 C456.3,154.3 446.3,156.3 440.0,156.0 C433.7,155.7 427.7,153.0 424.0,150.0 C420.3,147.0 418.3,142.0 418.0,138.0 C417.7,134.0 417.0,128.7 422.0,126.0Z" fill="#e0e0e0" filter="url(#b1)"/>
<line x1="433.7" y1="140.7" x2="446.3" y2="125.4" stroke="#e4e4e4" stroke-width="1.6" stroke-opacity="0.7" filter="url(#b1)"/>
<line x1="433.7" y1="140.7" x2="455.5" y2="131.9" stroke="#e4e4e4" stroke-width="1.6" stroke-opacity="0.7" filter="url(#b1)"/>
<line x1="433.7" y1="140.7" x2="458.9" y2="140.7" stroke="#e4e4e4" stroke-width="1.6" stroke-opacity="0.7" filter="url(#b1)"/>
<line x1="433.7" y1="140.7" x2="455.5" y2="149.5" stroke="#e4e4e4" stroke-width="1.6" stroke-opacity="0.7" filter="url(#b1)"/>
<line x1="433.7" y1="140.7" x2="446.3" y2="156.0" stroke="#e4e4e4" stroke-width="1.6" stroke-opacity="0.7" filter="url(#b1)"/>
<path d="M374.0,116.0 C374.7,114.0 375.0,107.7 378.0,104.0 C381.0,100.3 386.3,96.2 392.0,94.0 C397.7,91.8 405.7,90.8 412.0,91.0 C418.3,91.2 425.3,92.8 430.0,95.0 C434.7,97.2 438.3,102.5 440.0,104.0" fill="none" stroke="#eeeeee" stroke-width="6" stroke-linecap="round" filter="url(#b05)"/>
<path d="M380.0,122.0 C380.7,120.0 381.3,113.5 384.0,110.0 C386.7,106.5 391.3,102.8 396.0,101.0 C400.7,99.2 407.0,98.8 412.0,99.0 C417.0,99.2 422.3,100.2 426.0,102.0 C429.7,103.8 432.7,108.7 434.0,110.0" fill="none" stroke="#6e6e6e" stroke-width="5.0" stroke-linecap="round" filter="url(#b1)"/>
<path d="M396.0,110.0 C398.7,107.2 407.0,104.7 412.0,105.0 C417.0,105.3 423.3,108.5 426.0,112.0 C428.7,115.5 430.7,123.0 428.0,126.0 C425.3,129.0 415.3,130.7 410.0,130.0 C404.7,129.3 398.3,125.3 396.0,122.0 C393.7,118.7 393.3,112.8 396.0,110.0Z" fill="#d0d0d0" filter="url(#b1)"/>
<path d="M406.0,126.0 C408.3,123.3 416.7,122.3 420.0,124.0 C423.3,125.7 425.0,130.0 426.0,136.0 C427.0,142.0 428.7,156.0 426.0,160.0 C423.3,164.0 413.3,163.3 410.0,160.0 C406.7,156.7 406.7,145.7 406.0,140.0 C405.3,134.3 403.7,128.7 406.0,126.0Z" fill="#ececec" filter="url(#b1)"/>
<ellipse cx="364" cy="86" rx="2.6" ry="4.5" fill="#f2e21a" transform="rotate(0 364 86)"/>
<ellipse cx="372.4" cy="94" rx="1.8" ry="1.8" fill="#f2e21a" transform="rotate(0 372.4 94)"/>
<ellipse cx="426.1" cy="118.5" rx="2.0" ry="2.5" fill="#f2e21a" transform="rotate(0 426.1 118.5)"/>
<ellipse cx="455.2" cy="120.6" rx="5" ry="4" fill="#f2e21a" transform="rotate(0 455.2 120.6)"/>
<text x="353.5" y="155.4" font-size="14" font-weight="bold" fill="#fff" text-anchor="start">X=14</text>
</g>
<clipPath id="c6"><rect x="187" y="440" width="142" height="108"/></clipPath>
<rect x="187" y="440" width="142" height="108" fill="#050505"/>
<g clip-path="url(#c6)">
<path d="M238.0,522.0 C241.3,519.5 250.3,517.0 254.0,520.0 C257.7,523.0 259.3,534.8 260.0,540.0 C260.7,545.2 261.7,549.2 258.0,551.0 C254.3,552.8 242.0,553.7 238.0,551.0 C234.0,548.3 234.0,539.8 234.0,535.0 C234.0,530.2 234.7,524.5 238.0,522.0Z" fill="#3c3c3c" filter="url(#b1)"/>
<path d="M194.5,481.7 C196.9,476.7 200.9,469.4 205.2,464.6 C209.5,459.8 214.4,456.1 220.1,452.9 C225.8,449.7 233.2,447.1 239.3,445.4 C245.4,443.7 250.3,443.1 256.4,442.8 C262.4,442.5 269.6,442.6 275.6,443.7 C281.7,444.8 287.4,446.6 292.7,449.7 C298.0,452.8 303.3,457.5 307.6,462.5 C311.9,467.5 315.7,473.5 318.3,479.5 C320.9,485.5 322.3,492.6 323.0,498.7 C323.7,504.8 323.3,510.8 322.5,515.8 C321.7,520.8 320.4,524.7 318.3,528.6 C316.2,532.5 313.3,536.6 309.7,539.3 C306.1,542.0 301.9,543.5 296.9,544.6 C291.9,545.7 283.4,544.6 279.9,545.7 C276.4,546.8 280.0,550.1 276.0,551.0 C272.0,551.9 260.0,553.7 256.0,551.0 C252.0,548.3 253.8,539.5 252.1,535.0 C250.4,530.5 247.5,526.2 245.7,524.3 C243.9,522.3 243.3,522.9 241.5,523.3 C239.7,523.7 238.7,525.6 235.1,526.5 C231.5,527.4 225.1,528.6 220.1,528.6 C215.1,528.6 209.3,527.9 205.2,526.5 C201.1,525.1 197.9,523.0 195.6,520.1 C193.3,517.2 192.1,513.7 191.3,509.4 C190.5,505.1 190.2,499.1 190.7,494.5 C191.2,489.9 192.1,486.7 194.5,481.7Z" fill="#5a5a5a" filter="url(#b1)" />
<path d="M197.3,482.7 C199.6,477.9 203.4,470.9 207.5,466.3 C211.6,461.8 216.3,458.2 221.7,455.2 C227.2,452.1 234.3,449.6 240.1,448.0 C245.9,446.4 250.6,445.8 256.4,445.5 C262.2,445.3 269.0,445.3 274.7,446.4 C280.5,447.5 286.0,449.1 291.1,452.1 C296.2,455.1 301.2,459.6 305.3,464.3 C309.4,469.1 313.1,474.8 315.5,480.6 C318.0,486.3 319.3,493.1 320.0,498.9 C320.7,504.7 320.3,510.5 319.5,515.2 C318.8,520.0 317.6,523.7 315.5,527.5 C313.5,531.2 310.7,535.1 307.3,537.7 C303.9,540.2 299.8,541.7 295.1,542.7 C290.3,543.8 282.2,542.8 278.8,543.8 C275.5,544.8 278.9,548.0 275.1,548.9 C271.3,549.7 259.8,551.4 256.0,548.9 C252.2,546.3 253.9,537.8 252.3,533.6 C250.7,529.3 247.9,525.2 246.2,523.4 C244.5,521.5 243.9,522.0 242.2,522.4 C240.5,522.7 239.5,524.6 236.1,525.5 C232.7,526.3 226.5,527.5 221.7,527.5 C217.0,527.5 211.4,526.8 207.5,525.5 C203.6,524.1 200.6,522.1 198.3,519.3 C196.1,516.6 195.0,513.2 194.2,509.1 C193.5,505.1 193.2,499.3 193.7,494.9 C194.2,490.5 195.0,487.4 197.3,482.7Z" fill="#d0d0d0" filter="url(#b1)"/>
<path d="M198.0,485.0 C199.7,476.7 208.0,470.5 215.0,465.0 C222.0,459.5 234.2,449.5 240.0,452.0 C245.8,454.5 251.7,472.0 250.0,480.0 C248.3,488.0 237.5,494.2 230.0,500.0 C222.5,505.8 210.3,517.5 205.0,515.0 C199.7,512.5 196.3,493.3 198.0,485.0Z" fill="#dedede" filter="url(#b3)"/>
<path d="M212.0,508.0 C212.7,504.7 212.3,493.7 216.0,488.0 C219.7,482.3 227.0,477.0 234.0,474.0 C241.0,471.0 250.3,470.0 258.0,470.0 C265.7,470.0 274.0,471.3 280.0,474.0 C286.0,476.7 291.7,484.0 294.0,486.0" fill="none" stroke="#b0b0b0" stroke-width="6.0" stroke-linecap="round" filter="url(#b1)"/>
<path d="M276.0,450.0 C276.7,451.7 280.0,456.7 280.0,460.0 C280.0,463.3 276.7,468.3 276.0,470.0" fill="none" stroke="#a8a8a8" stroke-width="2.6" stroke-linecap="round" filter="url(#b1)"/>
<path d="M276.0,514.0 C281.0,511.3 293.0,509.3 300.0,510.0 C307.0,510.7 314.7,514.3 318.0,518.0 C321.3,521.7 321.7,528.0 320.0,532.0 C318.3,536.0 313.0,539.7 308.0,542.0 C303.0,544.3 295.3,546.3 290.0,546.0 C284.7,545.7 279.3,543.3 276.0,540.0 C272.7,536.7 270.0,530.3 270.0,526.0 C270.0,521.7 271.0,516.7 276.0,514.0Z" fill="#b4b4b4" filter="url(#b1)"/>
<line x1="284.0" y1="529.8" x2="295.2" y2="516.2" stroke="#e4e4e4" stroke-width="1.6" stroke-opacity="0.7" filter="url(#b1)"/>
<line x1="284.0" y1="529.8" x2="303.5" y2="521.9" stroke="#e4e4e4" stroke-width="1.6" stroke-opacity="0.7" filter="url(#b1)"/>
<line x1="284.0" y1="529.8" x2="306.5" y2="529.8" stroke="#e4e4e4" stroke-width="1.6" stroke-opacity="0.7" filter="url(#b1)"/>
<line x1="284.0" y1="529.8" x2="303.5" y2="537.7" stroke="#e4e4e4" stroke-width="1.6" stroke-opacity="0.7" filter="url(#b1)"/>
<line x1="284.0" y1="529.8" x2="295.2" y2="543.4" stroke="#e4e4e4" stroke-width="1.6" stroke-opacity="0.7" filter="url(#b1)"/>
<path d="M228.0,506.0 C227.3,504.3 231.7,496.8 236.0,494.0 C240.3,491.2 248.3,489.3 254.0,489.0 C259.7,488.7 267.0,490.3 270.0,492.0 C273.0,493.7 274.3,497.7 272.0,499.0 C269.7,500.3 261.3,499.2 256.0,500.0 C250.7,500.8 244.7,503.0 240.0,504.0 C235.3,505.0 228.7,507.7 228.0,506.0Z" fill="#7a7a7a" filter="url(#b05)"/>
<path d="M222.0,510.0 C222.7,507.7 223.0,500.2 226.0,496.0 C229.0,491.8 235.0,487.5 240.0,485.0 C245.0,482.5 250.7,481.2 256.0,481.0 C261.3,480.8 268.3,482.2 272.0,484.0 C275.7,485.8 277.3,489.3 278.0,492.0 C278.7,494.7 276.3,498.7 276.0,500.0" fill="none" stroke="#f4f4f4" stroke-width="5.2" stroke-linecap="round" filter="url(#b05)"/>
<path d="M240.0,498.0 C242.3,496.0 251.3,493.3 256.0,494.0 C260.7,494.7 266.3,498.7 268.0,502.0 C269.7,505.3 269.0,512.0 266.0,514.0 C263.0,516.0 254.0,515.3 250.0,514.0 C246.0,512.7 243.7,508.7 242.0,506.0 C240.3,503.3 237.7,500.0 240.0,498.0Z" fill="#d0d0d0" filter="url(#b1)"/>
<path d="M252.0,510.0 C253.7,506.3 262.3,506.7 266.0,508.0 C269.7,509.3 272.3,510.8 274.0,518.0 C275.7,525.2 278.7,545.5 276.0,551.0 C273.3,556.5 261.3,554.5 258.0,551.0 C254.7,547.5 257.0,536.8 256.0,530.0 C255.0,523.2 250.3,513.7 252.0,510.0Z" fill="#ececec" filter="url(#b1)"/>
<ellipse cx="259.6" cy="464.5" rx="3.5" ry="3" fill="#f2e21a" transform="rotate(0 259.6 464.5)"/>
<ellipse cx="279.3" cy="473.3" rx="1.6" ry="1.6" fill="#f2e21a" transform="rotate(0 279.3 473.3)"/>
<ellipse cx="206.9" cy="498.5" rx="2.2" ry="2.2" fill="#f2e21a" transform="rotate(0 206.9 498.5)"/>
<text x="188.3" y="543.5" font-size="14" font-weight="bold" fill="#fff" text-anchor="start">X=10</text>
</g>
<clipPath id="c7"><rect x="350" y="439" width="143" height="109"/></clipPath>
<rect x="350" y="439" width="143" height="109" fill="#050505"/>
<g clip-path="url(#c7)">
<path d="M400.0,526.0 C403.0,523.7 410.7,521.7 414.0,524.0 C417.3,526.3 419.3,535.5 420.0,540.0 C420.7,544.5 421.7,549.2 418.0,551.0 C414.3,552.8 401.7,553.2 398.0,551.0 C394.3,548.8 395.7,542.2 396.0,538.0 C396.3,533.8 397.0,528.3 400.0,526.0Z" fill="#3c3c3c" filter="url(#b1)"/>
<path d="M364.0,470.2 C367.2,465.9 372.2,460.9 376.9,457.3 C381.6,453.7 386.6,450.9 392.0,448.7 C397.4,446.5 403.5,444.9 409.2,444.0 C414.9,443.1 420.6,443.0 426.3,443.4 C432.0,443.8 438.1,444.6 443.5,446.6 C448.9,448.6 454.0,451.6 458.6,455.2 C463.2,458.8 467.6,463.1 471.4,468.1 C475.1,473.1 478.8,479.6 481.1,485.3 C483.4,491.0 484.9,496.7 485.4,502.4 C485.9,508.1 485.6,514.6 484.3,519.6 C483.1,524.6 480.8,528.9 477.9,532.5 C475.0,536.1 471.4,539.0 467.1,541.1 C462.8,543.2 456.8,544.5 452.1,545.4 C447.5,546.3 442.1,545.6 439.2,546.5 C436.3,547.4 438.6,550.2 435.0,551.0 C431.4,551.8 421.3,554.1 417.7,551.0 C414.1,547.9 415.2,536.6 413.4,532.5 C411.6,528.4 408.8,526.8 407.0,526.1 C405.2,525.4 404.5,527.1 402.7,528.2 C400.9,529.3 399.2,531.6 396.3,532.5 C393.4,533.4 389.8,534.0 385.5,533.6 C381.2,533.2 374.6,532.0 370.5,530.4 C366.4,528.8 363.3,526.8 360.8,523.9 C358.3,521.0 356.5,517.5 355.4,513.2 C354.3,508.9 354.0,503.2 354.4,498.2 C354.8,493.2 356.0,487.8 357.6,483.1 C359.2,478.4 360.8,474.5 364.0,470.2Z" fill="#5a5a5a" filter="url(#b1)" />
<path d="M366.4,471.7 C369.5,467.6 374.3,462.8 378.7,459.4 C383.2,456.0 388.0,453.3 393.2,451.2 C398.3,449.1 404.1,447.5 409.6,446.7 C415.1,445.9 420.5,445.7 425.9,446.1 C431.4,446.5 437.2,447.3 442.4,449.2 C447.5,451.1 452.3,454.0 456.8,457.4 C461.2,460.8 465.4,464.9 469.0,469.7 C472.6,474.5 476.0,480.7 478.3,486.1 C480.5,491.6 481.9,497.0 482.4,502.5 C482.9,507.9 482.5,514.1 481.3,518.9 C480.1,523.7 477.9,527.8 475.2,531.2 C472.5,534.6 469.0,537.4 464.9,539.4 C460.8,541.5 455.0,542.7 450.6,543.5 C446.1,544.4 441.0,543.7 438.2,544.6 C435.5,545.5 437.7,548.2 434.2,548.9 C430.8,549.6 421.2,551.8 417.7,548.9 C414.3,545.9 415.3,535.2 413.6,531.2 C411.9,527.3 409.2,525.8 407.5,525.1 C405.8,524.4 405.1,526.1 403.4,527.1 C401.7,528.1 400.0,530.4 397.3,531.2 C394.5,532.1 391.1,532.6 387.0,532.3 C382.9,531.9 376.6,530.8 372.6,529.2 C368.7,527.7 365.8,525.7 363.4,523.0 C361.0,520.3 359.2,516.9 358.2,512.8 C357.2,508.7 356.9,503.3 357.3,498.5 C357.6,493.7 358.8,488.5 360.3,484.0 C361.8,479.6 363.4,475.8 366.4,471.7Z" fill="#979797" filter="url(#b1)"/>
<path d="M372.0,496.0 C374.3,492.7 379.7,480.7 386.0,476.0 C392.3,471.3 401.7,469.3 410.0,468.0 C418.3,466.7 429.0,467.0 436.0,468.0 C443.0,469.0 449.3,473.0 452.0,474.0" fill="none" stroke="#888" stroke-width="3.0" stroke-linecap="round" filter="url(#b1)"/>
<path d="M436.0,510.0 C440.7,506.7 451.0,505.0 458.0,506.0 C465.0,507.0 474.3,512.0 478.0,516.0 C481.7,520.0 481.7,525.7 480.0,530.0 C478.3,534.3 473.0,539.3 468.0,542.0 C463.0,544.7 455.3,546.3 450.0,546.0 C444.7,545.7 439.3,543.3 436.0,540.0 C432.7,536.7 430.0,531.0 430.0,526.0 C430.0,521.0 431.3,513.3 436.0,510.0Z" fill="#b0b0b0" filter="url(#b1)"/>
<line x1="444.0" y1="528.0" x2="455.2" y2="514.4" stroke="#e4e4e4" stroke-width="1.6" stroke-opacity="0.7" filter="url(#b1)"/>
<line x1="444.0" y1="528.0" x2="463.5" y2="520.1" stroke="#e4e4e4" stroke-width="1.6" stroke-opacity="0.7" filter="url(#b1)"/>
<line x1="444.0" y1="528.0" x2="466.5" y2="528.0" stroke="#e4e4e4" stroke-width="1.6" stroke-opacity="0.7" filter="url(#b1)"/>
<line x1="444.0" y1="528.0" x2="463.5" y2="535.9" stroke="#e4e4e4" stroke-width="1.6" stroke-opacity="0.7" filter="url(#b1)"/>
<line x1="444.0" y1="528.0" x2="455.2" y2="541.6" stroke="#e4e4e4" stroke-width="1.6" stroke-opacity="0.7" filter="url(#b1)"/>
<path d="M390.0,505.0 C389.7,503.3 393.7,497.3 398.0,495.0 C402.3,492.7 410.7,491.2 416.0,491.0 C421.3,490.8 427.3,492.5 430.0,494.0 C432.7,495.5 434.3,498.7 432.0,500.0 C429.7,501.3 421.3,501.2 416.0,502.0 C410.7,502.8 404.3,504.5 400.0,505.0 C395.7,505.5 390.3,506.7 390.0,505.0Z" fill="#5a5a5a" filter="url(#b05)"/>
<path d="M384.0,508.0 C384.7,506.0 385.0,499.3 388.0,496.0 C391.0,492.7 397.0,489.7 402.0,488.0 C407.0,486.3 413.0,485.8 418.0,486.0 C423.0,486.2 428.7,487.5 432.0,489.0 C435.3,490.5 437.5,493.0 438.0,495.0 C438.5,497.0 435.5,500.0 435.0,501.0" fill="none" stroke="#f4f4f4" stroke-width="5.2" stroke-linecap="round" filter="url(#b05)"/>
<path d="M404.0,498.0 C406.0,496.0 412.0,493.7 416.0,494.0 C420.0,494.3 426.3,497.0 428.0,500.0 C429.7,503.0 429.0,510.0 426.0,512.0 C423.0,514.0 413.7,513.0 410.0,512.0 C406.3,511.0 405.0,508.3 404.0,506.0 C403.0,503.7 402.0,500.0 404.0,498.0Z" fill="#d0d0d0" filter="url(#b1)"/>
<path d="M414.0,510.0 C415.7,506.3 423.0,506.7 426.0,508.0 C429.0,509.3 430.5,510.8 432.0,518.0 C433.5,525.2 437.3,545.5 435.0,551.0 C432.7,556.5 421.2,554.5 418.0,551.0 C414.8,547.5 416.7,536.8 416.0,530.0 C415.3,523.2 412.3,513.7 414.0,510.0Z" fill="#ececec" filter="url(#b1)"/>
<ellipse cx="372.6" cy="475.5" rx="4.5" ry="5.5" fill="#f2e21a" transform="rotate(20 372.6 475.5)"/>
<text x="354.6" y="544.6" font-size="14" font-weight="bold" fill="#fff" text-anchor="start">X=2</text>
</g>
<clipPath id="c4"><rect x="502" y="52" width="122" height="105"/></clipPath>
<rect x="502" y="52" width="122" height="105" fill="#050505"/>
<g clip-path="url(#c4)">
<path d="M562.5,63.5 C567.0,63.5 571.8,64.6 576.0,66.5 C580.2,68.4 584.3,71.4 588.0,75.0 C591.7,78.6 595.2,83.2 598.0,88.0 C600.8,92.8 603.1,98.7 605.0,104.0 C606.9,109.3 608.7,115.7 609.5,120.0 C610.3,124.3 610.9,127.3 610.0,130.0 C609.1,132.7 607.3,134.5 604.0,136.0 C600.7,137.5 594.5,138.0 590.0,139.0 C585.5,140.0 580.5,140.3 577.0,142.0 C573.5,143.7 571.4,146.7 569.0,149.0 C566.6,151.3 564.7,156.0 562.5,156.0 C560.3,156.0 558.4,151.3 556.0,149.0 C553.6,146.7 551.5,143.7 548.0,142.0 C544.5,140.3 539.5,140.0 535.0,139.0 C530.5,138.0 524.2,137.5 521.0,136.0 C517.8,134.5 516.8,132.7 516.0,130.0 C515.2,127.3 515.8,124.3 516.5,120.0 C517.2,115.7 518.2,109.3 520.0,104.0 C521.8,98.7 524.2,92.8 527.0,88.0 C529.8,83.2 533.3,78.6 537.0,75.0 C540.7,71.4 544.8,68.4 549.0,66.5 C553.2,64.6 558.0,63.5 562.5,63.5Z" fill="#5a5a5a" filter="url(#b1)"/>
<path d="M562.5,65.8 C566.8,65.8 571.3,66.9 575.3,68.7 C579.4,70.5 583.2,73.3 586.7,76.8 C590.2,80.2 593.5,84.5 596.2,89.1 C598.9,93.7 601.1,99.2 602.9,104.3 C604.7,109.4 606.4,115.4 607.1,119.5 C607.9,123.6 608.5,126.5 607.6,129.0 C606.8,131.5 605.1,133.3 601.9,134.7 C598.8,136.1 592.9,136.6 588.6,137.6 C584.4,138.5 579.6,138.8 576.3,140.4 C572.9,142.0 571.0,144.8 568.7,147.1 C566.4,149.3 564.6,153.7 562.5,153.7 C560.4,153.7 558.6,149.3 556.3,147.1 C554.0,144.8 552.1,142.0 548.7,140.4 C545.4,138.8 540.6,138.5 536.4,137.6 C532.1,136.6 526.1,136.1 523.1,134.7 C520.1,133.3 519.0,131.5 518.3,129.0 C517.6,126.5 518.2,123.6 518.8,119.5 C519.4,115.4 520.5,109.4 522.1,104.3 C523.8,99.2 526.1,93.7 528.8,89.1 C531.5,84.5 534.8,80.2 538.3,76.8 C541.8,73.3 545.6,70.5 549.7,68.7 C553.7,66.9 558.2,65.8 562.5,65.8Z" fill="#a4a4a4" filter="url(#b1)"/>
<path d="M562.5,69.1 C566.5,69.1 570.6,70.0 574.4,71.7 C578.1,73.4 581.7,76.0 584.9,79.2 C588.2,82.4 591.2,86.4 593.7,90.6 C596.2,94.9 598.2,100.0 599.9,104.7 C601.6,109.4 603.1,115.0 603.9,118.8 C604.6,122.6 605.1,125.3 604.3,127.6 C603.5,129.9 602.0,131.6 599.0,132.9 C596.1,134.2 590.7,134.6 586.7,135.5 C582.7,136.4 578.3,136.7 575.3,138.2 C572.2,139.6 570.3,142.3 568.2,144.3 C566.1,146.4 564.4,150.5 562.5,150.5 C560.6,150.5 558.9,146.4 556.8,144.3 C554.7,142.3 552.8,139.6 549.7,138.2 C546.7,136.7 542.3,136.4 538.3,135.5 C534.3,134.6 528.8,134.2 526.0,132.9 C523.2,131.6 522.2,129.9 521.6,127.6 C520.9,125.3 521.4,122.6 522.0,118.8 C522.6,115.0 523.6,109.4 525.1,104.7 C526.6,100.0 528.8,94.9 531.3,90.6 C533.8,86.4 536.8,82.4 540.1,79.2 C543.3,76.0 546.9,73.4 550.6,71.7 C554.4,70.0 558.5,69.1 562.5,69.1Z" fill="#c2c2c2" filter="url(#b2)"/>
<path d="M560.5,74.0 C559.7,69.7 557.0,78.8 555.5,84.0 C554.0,89.2 552.7,99.0 551.5,105.0 C550.3,111.0 547.7,116.3 548.5,120.0 C549.3,123.7 554.5,128.7 556.5,127.0 C558.5,125.3 559.8,118.8 560.5,110.0 C561.2,101.2 561.3,78.3 560.5,74.0Z" fill="#a0a0a0" filter="url(#b1)"/>
<path d="M556.0,70 C552.0,85 547.0,105 545.5,119 C542.5,127 530.5,129.5 521.5,130.5" fill="none" stroke="#e2e2e2" stroke-width="4.2" filter="url(#b1)"/>
<path d="M558.5,134 C552.5,132 546.5,138 550.5,146" fill="none" stroke="#e2e2e2" stroke-width="3" filter="url(#b1)"/>
<path d="M564.5,74.0 C565.3,69.7 568.0,78.8 569.5,84.0 C571.0,89.2 572.3,99.0 573.5,105.0 C574.7,111.0 577.3,116.3 576.5,120.0 C575.7,123.7 570.5,128.7 568.5,127.0 C566.5,125.3 565.2,118.8 564.5,110.0 C563.8,101.2 563.7,78.3 564.5,74.0Z" fill="#a0a0a0" filter="url(#b1)"/>
<path d="M569.0,70 C573.0,85 578.0,105 579.5,119 C582.5,127 594.5,129.5 603.5,130.5" fill="none" stroke="#e2e2e2" stroke-width="4.2" filter="url(#b1)"/>
<path d="M566.5,134 C572.5,132 578.5,138 574.5,146" fill="none" stroke="#e2e2e2" stroke-width="3" filter="url(#b1)"/>
<line x1="562.5" y1="65" x2="562" y2="150" stroke="#8a8a8a" stroke-width="1.5" filter="url(#b05)"/>
<ellipse cx="572.8" cy="82.5" rx="1.2" ry="1.8" fill="#f2e21a" transform="rotate(0 572.8 82.5)"/>
<ellipse cx="604.9" cy="121.2" rx="2.4" ry="1.8" fill="#f2e21a" transform="rotate(0 604.9 121.2)"/>
<text x="579.3" y="154.4" font-size="14" font-weight="bold" fill="#fff" text-anchor="start">Y=48</text>
</g>
<clipPath id="c8"><rect x="511" y="441" width="111" height="107"/></clipPath>
<rect x="511" y="441" width="111" height="107" fill="#050505"/>
<g clip-path="url(#c8)">
<ellipse cx="566" cy="494" rx="50" ry="46" fill="#4a4a4a" filter="url(#b4)"/>
<rect x="521" y="454" width="43" height="86" rx="22" ry="30" fill="#a2a2a2" filter="url(#b3)"/>
<rect x="567" y="454" width="45" height="86" rx="22" ry="30" fill="#a2a2a2" filter="url(#b3)"/>
<ellipse cx="546" cy="500" rx="15" ry="28" fill="#c0c0c0" filter="url(#b3)"/>
<ellipse cx="587" cy="500" rx="15" ry="28" fill="#c0c0c0" filter="url(#b3)"/>
<path d="M565,448 C566,470 564.5,500 565.5,542" fill="none" stroke="#5a5a5a" stroke-width="3" filter="url(#b1)"/>
<ellipse cx="539.8" cy="507.1" rx="1.5" ry="3.3" fill="#f2e21a" transform="rotate(0 539.8 507.1)"/>
<path d="M583,503 L587,507 L593,500" fill="none" stroke="#f2e21a" stroke-width="2.4"/>
<text x="564.3" y="547.3" font-size="14" font-weight="bold" fill="#fff" text-anchor="middle">Y=64</text>
</g>
<path d="M47.9,356.5 L47.9,215.6 L72.7,215.6 L72.7,356.5" fill="none" stroke="#333" stroke-width="1.5" stroke-dasharray="1.6,1.5"/>
<line x1="47.5" y1="356.9" x2="164.875" y2="356.9" stroke="#5a5a5a" stroke-width="1.4"/>
<line x1="79.4" y1="356.5" x2="79.4" y2="355" stroke="#555" stroke-width="1"/>
<line x1="100.6" y1="356.5" x2="100.6" y2="355" stroke="#555" stroke-width="1"/>
<line x1="121.9" y1="356.5" x2="121.9" y2="355" stroke="#555" stroke-width="1"/>
<line x1="143.1" y1="356.5" x2="143.1" y2="355" stroke="#555" stroke-width="1"/>
<line x1="164.4" y1="356.5" x2="164.4" y2="355" stroke="#555" stroke-width="1"/>
<text x="58.4" y="368.7" font-size="10.4" text-anchor="middle" font-weight="normal" fill="#222" >5</text>
<text x="81.4" y="368.7" font-size="10.4" text-anchor="middle" font-weight="normal" fill="#222" >10</text>
<text x="102.6" y="368.7" font-size="10.4" text-anchor="middle" font-weight="normal" fill="#222" >15</text>
<text x="123.9" y="368.7" font-size="10.4" text-anchor="middle" font-weight="normal" fill="#222" >20</text>
<text x="145.1" y="368.7" font-size="10.4" text-anchor="middle" font-weight="normal" fill="#222" >25</text>
<text x="166.4" y="368.7" font-size="10.4" text-anchor="middle" font-weight="normal" fill="#222" >30</text>
<text transform="translate(98.0,383.7) scale(0.94,1)" font-size="13.2" text-anchor="middle" fill="#111">Seconds</text>
<polyline points="90.0,303.8 100.6,290.0 111.2,277.0 121.9,265.2" fill="none" stroke="#d0d0d0" stroke-width="3.0" stroke-linejoin="round"/>
<polyline points="90.0,290.8 100.6,266.0 111.2,264.0 121.9,257.3" fill="none" stroke="#808080" stroke-width="3.4" stroke-linejoin="round"/>
<polyline points="47.5,285.1 58.1,289.3 68.8,280.6 79.4,285.5 90.0,303.8 100.6,290.0 111.2,277.0 121.9,265.2 132.5,275.8 143.1,272.9 153.8,262.0 164.4,265.8" fill="none" stroke="#9a9a9a" stroke-width="1.2" stroke-linejoin="round"/>
<polyline points="47.5,283.5 58.1,281.2 68.8,272.5 79.4,276.8 90.0,290.8 100.6,266.0 111.2,264.0 121.9,257.3 132.5,269.2 143.1,267.0 153.8,265.8 164.4,265.2" fill="none" stroke="#262626" stroke-width="1.6" stroke-linejoin="round"/>
<path d="M190.4,356.5 L190.4,215.6 L215.2,215.6 L215.2,356.5" fill="none" stroke="#333" stroke-width="1.5" stroke-dasharray="1.6,1.5"/>
<line x1="190.0" y1="356.9" x2="307.375" y2="356.9" stroke="#5a5a5a" stroke-width="1.4"/>
<line x1="221.9" y1="356.5" x2="221.9" y2="355" stroke="#555" stroke-width="1"/>
<line x1="243.1" y1="356.5" x2="243.1" y2="355" stroke="#555" stroke-width="1"/>
<line x1="264.4" y1="356.5" x2="264.4" y2="355" stroke="#555" stroke-width="1"/>
<line x1="285.6" y1="356.5" x2="285.6" y2="355" stroke="#555" stroke-width="1"/>
<line x1="306.9" y1="356.5" x2="306.9" y2="355" stroke="#555" stroke-width="1"/>
<text x="200.9" y="368.7" font-size="10.4" text-anchor="middle" font-weight="normal" fill="#222" >5</text>
<text x="223.9" y="368.7" font-size="10.4" text-anchor="middle" font-weight="normal" fill="#222" >10</text>
<text x="245.1" y="368.7" font-size="10.4" text-anchor="middle" font-weight="normal" fill="#222" >15</text>
<text x="266.4" y="368.7" font-size="10.4" text-anchor="middle" font-weight="normal" fill="#222" >20</text>
<text x="287.6" y="368.7" font-size="10.4" text-anchor="middle" font-weight="normal" fill="#222" >25</text>
<text x="308.9" y="368.7" font-size="10.4" text-anchor="middle" font-weight="normal" fill="#222" >30</text>
<text transform="translate(248.0,383.7) scale(0.94,1)" font-size="13.2" text-anchor="middle" fill="#111">Seconds</text>
<polyline points="232.5,290.7 243.1,307.3 253.8,311.5 264.4,301.6" fill="none" stroke="#d0d0d0" stroke-width="3.6" stroke-linejoin="round"/>
<polyline points="221.9,261.0 232.5,266.2 243.1,258.5 253.8,280.7" fill="none" stroke="#808080" stroke-width="3.4" stroke-linejoin="round"/>
<polyline points="190.0,283.8 200.6,276.6 211.2,276.2 221.9,266.2 232.5,290.7 243.1,307.3 253.8,311.5 264.4,301.6 275.0,291.8 285.6,287.6 296.2,291.7 306.9,293.2" fill="none" stroke="#9a9a9a" stroke-width="1.2" stroke-linejoin="round"/>
<polyline points="190.0,283.4 200.6,264.8 211.2,261.4 221.9,261.0 232.5,266.2 243.1,258.5 253.8,280.7 264.4,288.0 275.0,292.1 285.6,287.6 296.2,293.2 306.9,295.9" fill="none" stroke="#262626" stroke-width="1.6" stroke-linejoin="round"/>
<path d="M344.7,356.5 L344.7,215.6 L369.5,215.6 L369.5,356.5" fill="none" stroke="#333" stroke-width="1.5" stroke-dasharray="1.6,1.5"/>
<line x1="344.3" y1="356.9" x2="461.675" y2="356.9" stroke="#5a5a5a" stroke-width="1.4"/>
<line x1="376.2" y1="356.5" x2="376.2" y2="355" stroke="#555" stroke-width="1"/>
<line x1="397.4" y1="356.5" x2="397.4" y2="355" stroke="#555" stroke-width="1"/>
<line x1="418.7" y1="356.5" x2="418.7" y2="355" stroke="#555" stroke-width="1"/>
<line x1="439.9" y1="356.5" x2="439.9" y2="355" stroke="#555" stroke-width="1"/>
<line x1="461.2" y1="356.5" x2="461.2" y2="355" stroke="#555" stroke-width="1"/>
<text x="355.2" y="368.7" font-size="10.4" text-anchor="middle" font-weight="normal" fill="#222" >5</text>
<text x="378.2" y="368.7" font-size="10.4" text-anchor="middle" font-weight="normal" fill="#222" >10</text>
<text x="399.4" y="368.7" font-size="10.4" text-anchor="middle" font-weight="normal" fill="#222" >15</text>
<text x="420.7" y="368.7" font-size="10.4" text-anchor="middle" font-weight="normal" fill="#222" >20</text>
<text x="441.9" y="368.7" font-size="10.4" text-anchor="middle" font-weight="normal" fill="#222" >25</text>
<text x="463.2" y="368.7" font-size="10.4" text-anchor="middle" font-weight="normal" fill="#222" >30</text>
<text transform="translate(403.8,383.7) scale(0.94,1)" font-size="13.2" text-anchor="middle" fill="#111">Seconds</text>
<polyline points="376.2,319.8 386.8,338.5 397.4,348.8 408.1,315.6" fill="none" stroke="#d0d0d0" stroke-width="4.6" stroke-linejoin="round"/>
<polyline points="376.2,298.0 386.8,308.4 397.4,294.0 408.1,278.3 418.7,267.2" fill="none" stroke="#808080" stroke-width="3.8" stroke-linejoin="round"/>
<polyline points="344.3,286.5 354.9,304.6 365.6,293.2 376.2,319.8 386.8,338.5 397.4,348.8 408.1,315.6 418.7,289.7 429.3,285.0 439.9,287.6 450.6,267.2 461.2,267.2" fill="none" stroke="#9a9a9a" stroke-width="1.2" stroke-linejoin="round"/>
<polyline points="344.3,285.5 354.9,289.0 365.6,279.3 376.2,298.0 386.8,308.4 397.4,294.0 408.1,278.3 418.7,267.2 429.3,278.2 439.9,273.0 450.6,257.5 461.2,254.2" fill="none" stroke="#262626" stroke-width="1.6" stroke-linejoin="round"/>
<path d="M505.2,356.5 L505.2,215.6 L530.0,215.6 L530.0,356.5" fill="none" stroke="#333" stroke-width="1.5" stroke-dasharray="1.6,1.5"/>
<line x1="504.8" y1="356.9" x2="622.175" y2="356.9" stroke="#5a5a5a" stroke-width="1.4"/>
<line x1="536.7" y1="356.5" x2="536.7" y2="355" stroke="#555" stroke-width="1"/>
<line x1="557.9" y1="356.5" x2="557.9" y2="355" stroke="#555" stroke-width="1"/>
<line x1="579.2" y1="356.5" x2="579.2" y2="355" stroke="#555" stroke-width="1"/>
<line x1="600.4" y1="356.5" x2="600.4" y2="355" stroke="#555" stroke-width="1"/>
<line x1="621.7" y1="356.5" x2="621.7" y2="355" stroke="#555" stroke-width="1"/>
<text x="515.7" y="368.7" font-size="10.4" text-anchor="middle" font-weight="normal" fill="#222" >5</text>
<text x="538.7" y="368.7" font-size="10.4" text-anchor="middle" font-weight="normal" fill="#222" >10</text>
<text x="559.9" y="368.7" font-size="10.4" text-anchor="middle" font-weight="normal" fill="#222" >15</text>
<text x="581.2" y="368.7" font-size="10.4" text-anchor="middle" font-weight="normal" fill="#222" >20</text>
<text x="602.4" y="368.7" font-size="10.4" text-anchor="middle" font-weight="normal" fill="#222" >25</text>
<text x="623.7" y="368.7" font-size="10.4" text-anchor="middle" font-weight="normal" fill="#222" >30</text>
<text transform="translate(564.4,383.7) scale(0.94,1)" font-size="13.2" text-anchor="middle" fill="#111">Seconds</text>
<polyline points="536.7,300.0 547.3,315.3 557.9,314.0 568.5,290.0" fill="none" stroke="#d0d0d0" stroke-width="4.0" stroke-linejoin="round"/>
<polyline points="536.7,281.3 547.3,290.1 557.9,285.9 568.5,273.5 579.2,254.2" fill="none" stroke="#808080" stroke-width="3.8" stroke-linejoin="round"/>
<polyline points="504.8,286.3 515.4,296.3 526.0,289.0 536.7,300.0 547.3,315.3 557.9,314.0 568.5,290.0 579.2,262.7 589.8,276.6 600.4,279.3 611.0,261.4 621.7,258.9" fill="none" stroke="#9a9a9a" stroke-width="1.2" stroke-linejoin="round"/>
<polyline points="504.8,285.5 515.4,287.4 526.0,274.1 536.7,281.3 547.3,290.1 557.9,285.9 568.5,273.5 579.2,254.2 589.8,269.9 600.4,267.2 611.0,248.2 621.7,253.3" fill="none" stroke="#262626" stroke-width="1.6" stroke-linejoin="round"/>
<line x1="46.7" y1="213" x2="46.7" y2="357" stroke="#666" stroke-width="1"/>
<text x="44.6" y="219.5" font-size="10.4" text-anchor="end" font-weight="normal" fill="#222" >0.3</text>
<text x="44.6" y="243.29999999999998" font-size="10.4" text-anchor="end" font-weight="normal" fill="#222" >0.2</text>
<text x="44.6" y="267.0" font-size="10.4" text-anchor="end" font-weight="normal" fill="#222" >0.1</text>
<text x="44.6" y="290.7" font-size="10.4" text-anchor="end" font-weight="normal" fill="#222" >0</text>
<text x="44.6" y="314.4" font-size="10.4" text-anchor="end" font-weight="normal" fill="#222" >−0.1</text>
<text x="44.6" y="338.09999999999997" font-size="10.4" text-anchor="end" font-weight="normal" fill="#222" >−0.2</text>
<text transform="translate(16.8,292.6) rotate(-90)" font-size="12.6" text-anchor="middle" fill="#111">% Signal change</text>
<line x1="100.4" y1="316.1" x2="116.5" y2="316.1" stroke="#a0a0a0" stroke-width="1.4"/>
<text x="120.4" y="321.40000000000003" font-size="14.7" text-anchor="start" font-weight="normal" fill="#111" >€3</text>
<line x1="100.4" y1="333.70000000000005" x2="116.5" y2="333.70000000000005" stroke="#1a1a1a" stroke-width="1.6"/>
<text x="120.4" y="339.20000000000005" font-size="14.7" text-anchor="start" font-weight="normal" fill="#111" >€18</text>
<line x1="616.2" y1="291.0" x2="632.3000000000001" y2="291.0" stroke="#a0a0a0" stroke-width="1.4"/>
<text x="635.2" y="296.3" font-size="14.7" text-anchor="start" font-weight="normal" fill="#111" >€3</text>
<line x1="616.2" y1="308.6" x2="632.3000000000001" y2="308.6" stroke="#1a1a1a" stroke-width="1.6"/>
<text x="635.2" y="314.1" font-size="14.7" text-anchor="start" font-weight="normal" fill="#111" >€18</text>
<line x1="53.3" y1="774.1" x2="173.9" y2="774.1" stroke="#555" stroke-width="1.1"/>
<line x1="52.9" y1="774" x2="52.9" y2="772.3" stroke="#555" stroke-width="1"/>
<text transform="translate(53.4,785.6) scale(0.85,1)" font-size="10.0" text-anchor="middle" fill="#222">−10</text>
<line x1="83.1" y1="774" x2="83.1" y2="772.3" stroke="#555" stroke-width="1"/>
<text transform="translate(82.1,785.6) scale(0.85,1)" font-size="10.0" text-anchor="middle" fill="#222">−5</text>
<line x1="113.3" y1="774" x2="113.3" y2="772.3" stroke="#555" stroke-width="1"/>
<text transform="translate(113.9,785.6) scale(0.85,1)" font-size="10.0" text-anchor="middle" fill="#222">0</text>
<line x1="143.5" y1="774" x2="143.5" y2="772.3" stroke="#555" stroke-width="1"/>
<text transform="translate(144.1,785.6) scale(0.85,1)" font-size="10.0" text-anchor="middle" fill="#222">5</text>
<line x1="173.7" y1="774" x2="173.7" y2="772.3" stroke="#555" stroke-width="1"/>
<text transform="translate(174.3,785.6) scale(0.85,1)" font-size="10.0" text-anchor="middle" fill="#222">10</text>
<text x="113.6" y="801.3" font-size="12.7" text-anchor="middle" font-weight="normal" fill="#111" >Ventral striatum</text>
<text x="109.8" y="816.9" font-size="12.9" text-anchor="middle" font-weight="normal" fill="#111" >activity (a.u.)</text>
<line x1="197.8" y1="774.1" x2="321.0" y2="774.1" stroke="#555" stroke-width="1.1"/>
<line x1="197.8" y1="774" x2="197.8" y2="772.3" stroke="#555" stroke-width="1"/>
<text transform="translate(198.3,785.6) scale(0.85,1)" font-size="10.0" text-anchor="middle" fill="#222">−10</text>
<line x1="228.6" y1="774" x2="228.6" y2="772.3" stroke="#555" stroke-width="1"/>
<text transform="translate(227.6,785.6) scale(0.85,1)" font-size="10.0" text-anchor="middle" fill="#222">−5</text>
<line x1="259.4" y1="774" x2="259.4" y2="772.3" stroke="#555" stroke-width="1"/>
<text transform="translate(260.0,785.6) scale(0.85,1)" font-size="10.0" text-anchor="middle" fill="#222">0</text>
<line x1="290.2" y1="774" x2="290.2" y2="772.3" stroke="#555" stroke-width="1"/>
<text transform="translate(290.8,785.6) scale(0.85,1)" font-size="10.0" text-anchor="middle" fill="#222">5</text>
<line x1="321.0" y1="774" x2="321.0" y2="772.3" stroke="#555" stroke-width="1"/>
<text transform="translate(321.6,785.6) scale(0.85,1)" font-size="10.0" text-anchor="middle" fill="#222">10</text>
<text x="255.3" y="801.3" font-size="12.7" text-anchor="middle" font-weight="normal" fill="#111" >ACC</text>
<text x="255.5" y="816.9" font-size="12.9" text-anchor="middle" font-weight="normal" fill="#111" >activity (a.u.)</text>
<line x1="352.8" y1="774.1" x2="478.4" y2="774.1" stroke="#555" stroke-width="1.1"/>
<line x1="352.8" y1="774" x2="352.8" y2="772.3" stroke="#555" stroke-width="1"/>
<text transform="translate(353.3,785.6) scale(0.85,1)" font-size="10.0" text-anchor="middle" fill="#222">−10</text>
<line x1="384.2" y1="774" x2="384.2" y2="772.3" stroke="#555" stroke-width="1"/>
<text transform="translate(383.2,785.6) scale(0.85,1)" font-size="10.0" text-anchor="middle" fill="#222">−5</text>
<line x1="415.6" y1="774" x2="415.6" y2="772.3" stroke="#555" stroke-width="1"/>
<text transform="translate(416.2,785.6) scale(0.85,1)" font-size="10.0" text-anchor="middle" fill="#222">0</text>
<line x1="447.0" y1="774" x2="447.0" y2="772.3" stroke="#555" stroke-width="1"/>
<text transform="translate(447.6,785.6) scale(0.85,1)" font-size="10.0" text-anchor="middle" fill="#222">5</text>
<line x1="478.4" y1="774" x2="478.4" y2="772.3" stroke="#555" stroke-width="1"/>
<text transform="translate(479.0,785.6) scale(0.85,1)" font-size="10.0" text-anchor="middle" fill="#222">10</text>
<text x="417.2" y="801.3" font-size="12.7" text-anchor="middle" font-weight="normal" fill="#111" >dlPFC</text>
<text x="417.3" y="816.9" font-size="12.9" text-anchor="middle" font-weight="normal" fill="#111" >activity (a.u.)</text>
<line x1="500.0" y1="774.1" x2="623.2" y2="774.1" stroke="#555" stroke-width="1.1"/>
<line x1="500.0" y1="774" x2="500.0" y2="772.3" stroke="#555" stroke-width="1"/>
<text transform="translate(500.5,785.6) scale(0.85,1)" font-size="10.0" text-anchor="middle" fill="#222">−10</text>
<line x1="530.8" y1="774" x2="530.8" y2="772.3" stroke="#555" stroke-width="1"/>
<text transform="translate(529.8,785.6) scale(0.85,1)" font-size="10.0" text-anchor="middle" fill="#222">−5</text>
<line x1="561.6" y1="774" x2="561.6" y2="772.3" stroke="#555" stroke-width="1"/>
<text transform="translate(562.2,785.6) scale(0.85,1)" font-size="10.0" text-anchor="middle" fill="#222">0</text>
<line x1="592.4" y1="774" x2="592.4" y2="772.3" stroke="#555" stroke-width="1"/>
<text transform="translate(593.0,785.6) scale(0.85,1)" font-size="10.0" text-anchor="middle" fill="#222">5</text>
<line x1="623.2" y1="774" x2="623.2" y2="772.3" stroke="#555" stroke-width="1"/>
<text transform="translate(623.8,785.6) scale(0.85,1)" font-size="10.0" text-anchor="middle" fill="#222">10</text>
<text x="568.2" y="801.3" font-size="12.7" text-anchor="middle" font-weight="normal" fill="#111" >antPFC</text>
<text x="568.2" y="816.9" font-size="12.9" text-anchor="middle" font-weight="normal" fill="#111" >activity (a.u.)</text>
<line x1="52.7" y1="595.5" x2="52.7" y2="774.1" stroke="#555" stroke-width="1.1"/>
<line x1="52.7" y1="596.3" x2="54.4" y2="596.3" stroke="#555" stroke-width="1"/>
<text transform="translate(43.0,600.3) scale(0.77,1)" font-size="11.3" text-anchor="middle" fill="#222">0.8</text>
<line x1="52.7" y1="631.6" x2="54.4" y2="631.6" stroke="#555" stroke-width="1"/>
<text transform="translate(43.0,635.6) scale(0.77,1)" font-size="11.3" text-anchor="middle" fill="#222">0.4</text>
<line x1="52.7" y1="666.9" x2="54.4" y2="666.9" stroke="#555" stroke-width="1"/>
<text transform="translate(43.0,670.9) scale(0.77,1)" font-size="11.3" text-anchor="middle" fill="#222">0</text>
<line x1="52.7" y1="702.2" x2="54.4" y2="702.2" stroke="#555" stroke-width="1"/>
<text transform="translate(43.0,706.2) scale(0.77,1)" font-size="11.3" text-anchor="middle" fill="#222">−0.4</text>
<line x1="52.7" y1="737.5" x2="54.4" y2="737.5" stroke="#555" stroke-width="1"/>
<text transform="translate(43.0,741.5) scale(0.77,1)" font-size="11.3" text-anchor="middle" fill="#222">−0.8</text>
<line x1="52.7" y1="772.8" x2="54.4" y2="772.8" stroke="#555" stroke-width="1"/>
<text transform="translate(43.0,776.8) scale(0.77,1)" font-size="11.3" text-anchor="middle" fill="#222">−1.2</text>
<text transform="translate(26.0,682) rotate(-90)" font-size="12.5" text-anchor="middle" fill="#111">Experienced pleasantness (a.u.)</text>
<line x1="86.5" y1="721.4" x2="134.0" y2="611.9" stroke="#474ca8" stroke-width="3.2" stroke-linecap="butt"/>
<line x1="94.7" y1="708.9" x2="138.3" y2="628.1" stroke="#474ca8" stroke-width="3.0" stroke-linecap="butt"/>
<line x1="96.0" y1="702.0" x2="130.6" y2="627.2" stroke="#474ca8" stroke-width="2.4" stroke-linecap="butt"/>
<line x1="97.0" y1="694.0" x2="131.5" y2="632.3" stroke="#6a6ec0" stroke-width="1.6" stroke-linecap="butt"/>
<line x1="90.3" y1="696.8" x2="128.0" y2="642.0" stroke="#6a6ec0" stroke-width="1.8" stroke-linecap="butt"/>
<line x1="93.0" y1="690.8" x2="126.0" y2="650.0" stroke="#474ca8" stroke-width="2.6" stroke-linecap="butt"/>
<line x1="90.0" y1="678.0" x2="142.5" y2="651.9" stroke="#24399b" stroke-width="3.0" stroke-linecap="butt"/>
<line x1="92.0" y1="670.0" x2="143.0" y2="659.5" stroke="#474ca8" stroke-width="2.6" stroke-linecap="butt"/>
<line x1="96.9" y1="646.0" x2="128.8" y2="686.2" stroke="#6a6ec0" stroke-width="1.6" stroke-linecap="butt"/>
<line x1="101.2" y1="647.7" x2="128.6" y2="685.9" stroke="#474ca8" stroke-width="2.4" stroke-linecap="butt"/>
<line x1="96.3" y1="656.4" x2="131.3" y2="678.3" stroke="#474ca8" stroke-width="3.0" stroke-linecap="butt"/>
<line x1="91.9" y1="663.0" x2="131.0" y2="671.0" stroke="#6a6ec0" stroke-width="1.6" stroke-linecap="butt"/>
<line x1="98.0" y1="659.0" x2="143.8" y2="682.2" stroke="#474ca8" stroke-width="3.0" stroke-linecap="butt"/>
<line x1="90.3" y1="672.2" x2="138.0" y2="660.0" stroke="#474ca8" stroke-width="2.4" stroke-linecap="butt"/>
<line x1="100.0" y1="690.0" x2="128.0" y2="630.0" stroke="#474ca8" stroke-width="2.2" stroke-linecap="butt"/>
<line x1="104.0" y1="684.0" x2="122.0" y2="645.0" stroke="#24399b" stroke-width="2.6" stroke-linecap="butt"/>
<line x1="99.0" y1="680.0" x2="130.0" y2="650.0" stroke="#474ca8" stroke-width="3.0" stroke-linecap="butt"/>
<line x1="103.0" y1="695.0" x2="125.0" y2="640.0" stroke="#474ca8" stroke-width="3.0" stroke-linecap="butt"/>
<line x1="83.7" y1="676.7" x2="146.1" y2="655.3" stroke="#2e2e2e" stroke-width="1.4" stroke-linecap="butt"/>
<line x1="83.7" y1="694.1" x2="146.1" y2="636.4" stroke="#2e2e2e" stroke-width="1.4" stroke-linecap="butt"/>
<line x1="83.7" y1="685.4" x2="146.1" y2="646.6" stroke="#050505" stroke-width="3.3" stroke-linecap="butt"/>
<line x1="213.6" y1="637.2" x2="291.7" y2="672.0" stroke="#24399b" stroke-width="3.0" stroke-linecap="butt"/>
<line x1="222.8" y1="673.9" x2="294.6" y2="635.0" stroke="#24399b" stroke-width="3.0" stroke-linecap="butt"/>
<line x1="235.4" y1="687.2" x2="281.3" y2="622.4" stroke="#24399b" stroke-width="3.5" stroke-linecap="butt"/>
<line x1="243.5" y1="705.7" x2="268.0" y2="603.9" stroke="#6a6ec0" stroke-width="1.4" stroke-linecap="butt"/>
<line x1="245.0" y1="623.9" x2="268.7" y2="685.3" stroke="#6a6ec0" stroke-width="1.4" stroke-linecap="butt"/>
<line x1="236.4" y1="638.7" x2="279.0" y2="670.9" stroke="#474ca8" stroke-width="3.0" stroke-linecap="butt"/>
<line x1="239.8" y1="655.0" x2="276.1" y2="655.0" stroke="#474ca8" stroke-width="3.0" stroke-linecap="butt"/>
<line x1="244.3" y1="688.7" x2="269.4" y2="620.2" stroke="#6a6ec0" stroke-width="1.4" stroke-linecap="butt"/>
<line x1="236.9" y1="676.9" x2="285.0" y2="629.1" stroke="#474ca8" stroke-width="2.6" stroke-linecap="butt"/>
<line x1="245.7" y1="640.9" x2="272.0" y2="668.0" stroke="#474ca8" stroke-width="2.2" stroke-linecap="butt"/>
<line x1="240.0" y1="680.0" x2="271.7" y2="626.9" stroke="#474ca8" stroke-width="2.6" stroke-linecap="butt"/>
<line x1="238.0" y1="670.0" x2="285.0" y2="640.0" stroke="#474ca8" stroke-width="2.4" stroke-linecap="butt"/>
<line x1="248.0" y1="676.0" x2="266.0" y2="632.0" stroke="#474ca8" stroke-width="2.4" stroke-linecap="butt"/>
<line x1="232.0" y1="660.0" x2="282.0" y2="648.0" stroke="#474ca8" stroke-width="2.2" stroke-linecap="butt"/>
<line x1="209.1" y1="675.9" x2="299.5" y2="637.9" stroke="#2e2e2e" stroke-width="1.4" stroke-linecap="butt"/>
<line x1="209.1" y1="707.4" x2="299.5" y2="610.3" stroke="#2e2e2e" stroke-width="1.4" stroke-linecap="butt"/>
<line x1="209.1" y1="691.2" x2="299.5" y2="624.8" stroke="#050505" stroke-width="3.3" stroke-linecap="butt"/>
<line x1="384.7" y1="718.0" x2="436.7" y2="594.8" stroke="#474ca8" stroke-width="3.2" stroke-linecap="butt"/>
<line x1="379.9" y1="708.4" x2="473.3" y2="604.5" stroke="#24399b" stroke-width="3.0" stroke-linecap="butt"/>
<line x1="354.8" y1="669.3" x2="455.0" y2="641.6" stroke="#24399b" stroke-width="3.0" stroke-linecap="butt"/>
<line x1="367.3" y1="658.4" x2="450.2" y2="653.6" stroke="#24399b" stroke-width="3.0" stroke-linecap="butt"/>
<line x1="399.1" y1="631.4" x2="427.1" y2="681.4" stroke="#6a6ec0" stroke-width="1.5" stroke-linecap="butt"/>
<line x1="392.4" y1="641.6" x2="432.9" y2="674.7" stroke="#6a6ec0" stroke-width="1.6" stroke-linecap="butt"/>
<line x1="380.8" y1="702.6" x2="434.8" y2="610.2" stroke="#474ca8" stroke-width="2.6" stroke-linecap="butt"/>
<line x1="372.2" y1="688.2" x2="443.4" y2="624.7" stroke="#474ca8" stroke-width="3.0" stroke-linecap="butt"/>
<line x1="380.0" y1="648.0" x2="448.3" y2="664.1" stroke="#474ca8" stroke-width="3.0" stroke-linecap="butt"/>
<line x1="366.0" y1="662.0" x2="449.2" y2="653.9" stroke="#474ca8" stroke-width="2.6" stroke-linecap="butt"/>
<line x1="390.0" y1="690.0" x2="432.0" y2="615.0" stroke="#474ca8" stroke-width="2.6" stroke-linecap="butt"/>
<line x1="395.0" y1="700.0" x2="428.0" y2="612.0" stroke="#474ca8" stroke-width="2.2" stroke-linecap="butt"/>
<line x1="385.0" y1="672.0" x2="440.0" y2="635.0" stroke="#474ca8" stroke-width="3.0" stroke-linecap="butt"/>
<line x1="360.0" y1="664.0" x2="460.0" y2="645.0" stroke="#24399b" stroke-width="2.6" stroke-linecap="butt"/>
<line x1="376.0" y1="680.0" x2="446.0" y2="628.0" stroke="#474ca8" stroke-width="2.6" stroke-linecap="butt"/>
<line x1="400.0" y1="640.0" x2="420.0" y2="670.0" stroke="#6a6ec0" stroke-width="2.0" stroke-linecap="butt"/>
<line x1="371.2" y1="688.3" x2="444.0" y2="630.0" stroke="#474ca8" stroke-width="3.0" stroke-linecap="butt"/>
<line x1="378.9" y1="697.9" x2="440.0" y2="632.0" stroke="#474ca8" stroke-width="2.6" stroke-linecap="butt"/>
<line x1="388.5" y1="709.5" x2="430.0" y2="628.0" stroke="#474ca8" stroke-width="2.4" stroke-linecap="butt"/>
<line x1="375.0" y1="676.7" x2="440.6" y2="638.2" stroke="#474ca8" stroke-width="3.0" stroke-linecap="butt"/>
<line x1="362.0" y1="672.0" x2="452.0" y2="640.0" stroke="#474ca8" stroke-width="2.6" stroke-linecap="butt"/>
<line x1="380.0" y1="640.0" x2="448.3" y2="663.2" stroke="#474ca8" stroke-width="2.6" stroke-linecap="butt"/>
<line x1="396.0" y1="650.0" x2="449.2" y2="653.6" stroke="#474ca8" stroke-width="2.6" stroke-linecap="butt"/>
<line x1="352.9" y1="678.3" x2="477.8" y2="631.2" stroke="#2e2e2e" stroke-width="1.4" stroke-linecap="butt"/>
<line x1="352.9" y1="708.3" x2="477.8" y2="597.9" stroke="#2e2e2e" stroke-width="1.4" stroke-linecap="butt"/>
<line x1="352.9" y1="693.9" x2="477.8" y2="615.0" stroke="#050505" stroke-width="3.4" stroke-linecap="butt"/>
<line x1="521.9" y1="637.0" x2="607.2" y2="674.3" stroke="#24399b" stroke-width="3.2" stroke-linecap="butt"/>
<line x1="539.7" y1="704.6" x2="572.6" y2="606.8" stroke="#6a6ec0" stroke-width="1.4" stroke-linecap="butt"/>
<line x1="532.6" y1="692.1" x2="578.8" y2="619.6" stroke="#474ca8" stroke-width="3.0" stroke-linecap="butt"/>
<line x1="524.6" y1="658.0" x2="604.6" y2="652.4" stroke="#24399b" stroke-width="3.0" stroke-linecap="butt"/>
<line x1="512.1" y1="668.1" x2="612.6" y2="642.7" stroke="#24399b" stroke-width="3.0" stroke-linecap="butt"/>
<line x1="547.7" y1="623.1" x2="573.4" y2="687.7" stroke="#6a6ec0" stroke-width="1.4" stroke-linecap="butt"/>
<line x1="547.7" y1="633.8" x2="575.0" y2="672.0" stroke="#6a6ec0" stroke-width="1.4" stroke-linecap="butt"/>
<line x1="545.9" y1="693.4" x2="572.6" y2="617.8" stroke="#6a6ec0" stroke-width="1.6" stroke-linecap="butt"/>
<line x1="534.3" y1="682.3" x2="588.6" y2="632.9" stroke="#474ca8" stroke-width="2.6" stroke-linecap="butt"/>
<line x1="530.8" y1="637.3" x2="590.0" y2="668.0" stroke="#474ca8" stroke-width="2.6" stroke-linecap="butt"/>
<line x1="531.7" y1="673.4" x2="600.0" y2="640.0" stroke="#474ca8" stroke-width="2.6" stroke-linecap="butt"/>
<line x1="520.0" y1="663.0" x2="600.0" y2="648.0" stroke="#474ca8" stroke-width="2.6" stroke-linecap="butt"/>
<line x1="538.0" y1="686.0" x2="584.0" y2="626.0" stroke="#474ca8" stroke-width="2.4" stroke-linecap="butt"/>
<line x1="528.0" y1="650.0" x2="596.0" y2="662.0" stroke="#474ca8" stroke-width="2.4" stroke-linecap="butt"/>
<line x1="524.6" y1="659.0" x2="560.0" y2="660.0" stroke="#474ca8" stroke-width="3.4" stroke-linecap="butt"/>
<line x1="530.0" y1="675.0" x2="575.0" y2="645.0" stroke="#474ca8" stroke-width="3.0" stroke-linecap="butt"/>
<line x1="536.0" y1="682.0" x2="566.0" y2="650.0" stroke="#474ca8" stroke-width="2.6" stroke-linecap="butt"/>
<line x1="540.0" y1="688.0" x2="570.0" y2="640.0" stroke="#6a6ec0" stroke-width="2.0" stroke-linecap="butt"/>
<line x1="506.4" y1="664.3" x2="617.8" y2="646.0" stroke="#2e2e2e" stroke-width="1.4" stroke-linecap="butt"/>
<line x1="506.4" y1="690.0" x2="617.8" y2="617.4" stroke="#2e2e2e" stroke-width="1.4" stroke-linecap="butt"/>
<line x1="506.4" y1="677.1" x2="617.8" y2="632.5" stroke="#050505" stroke-width="3.4" stroke-linecap="butt"/>
</svg>
</body></html>
